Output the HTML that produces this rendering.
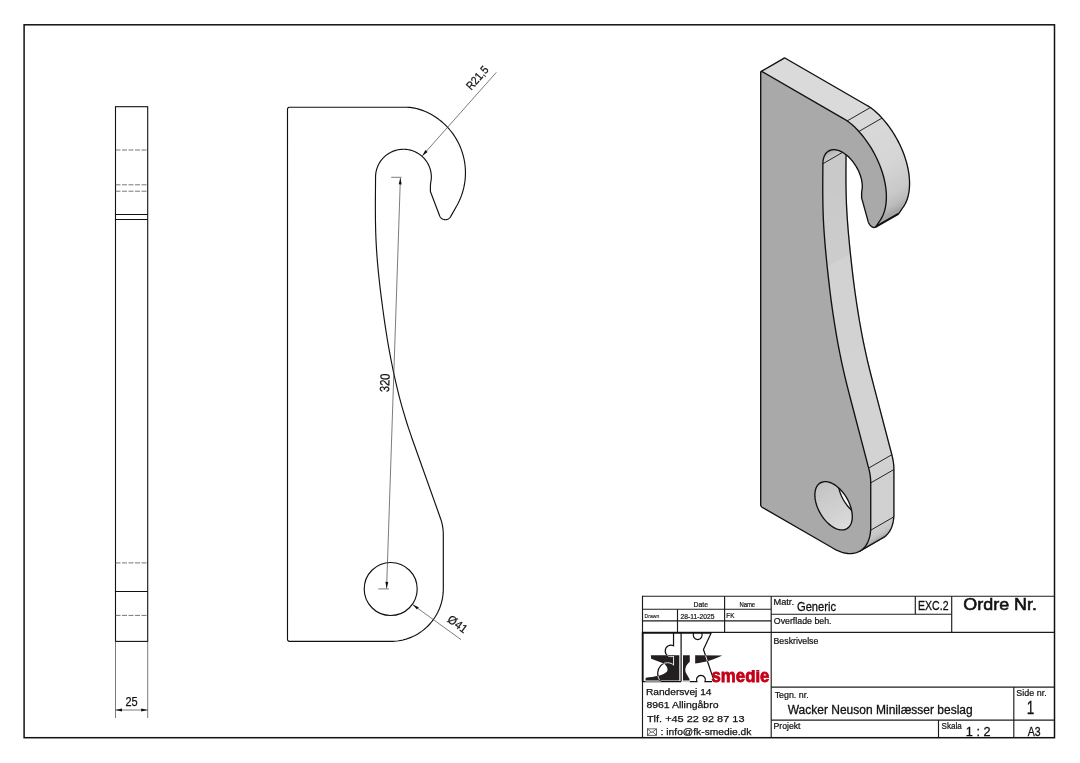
<!DOCTYPE html>
<html lang="da"><head><meta charset="utf-8"><title>Wacker Neuson Minilæsser beslag</title>
<style>html,body{margin:0;padding:0;background:#fff;}svg{display:block;will-change:transform;}</style></head>
<body>
<svg width="1080" height="763" viewBox="0 0 1080 763" font-family="'Liberation Sans', sans-serif">
<rect width="1080" height="763" fill="#fff"/>
<rect x="24.1" y="24.8" width="1030.4" height="712.9" fill="none" stroke="#111" stroke-width="1.5"/>
<rect x="115.5" y="106.7" width="32.2" height="534.7" fill="none" stroke="#111" stroke-width="1.1"/>
<line x1="115.50" y1="150.00" x2="147.70" y2="150.00" stroke="#555" stroke-width="0.8" stroke-dasharray="5 1.5"/>
<line x1="115.50" y1="184.80" x2="147.70" y2="184.80" stroke="#555" stroke-width="0.8" stroke-dasharray="5 1.5"/>
<line x1="115.50" y1="191.20" x2="147.70" y2="191.20" stroke="#555" stroke-width="0.8" stroke-dasharray="5 1.5"/>
<line x1="115.50" y1="562.90" x2="147.70" y2="562.90" stroke="#555" stroke-width="0.8" stroke-dasharray="5 1.5"/>
<line x1="115.50" y1="615.40" x2="147.70" y2="615.40" stroke="#555" stroke-width="0.8" stroke-dasharray="5 1.5"/>
<line x1="115.50" y1="214.50" x2="147.70" y2="214.50" stroke="#111" stroke-width="1.0" />
<line x1="115.50" y1="219.50" x2="147.70" y2="219.50" stroke="#111" stroke-width="1.0" />
<line x1="115.50" y1="591.50" x2="147.70" y2="591.50" stroke="#111" stroke-width="1.0" />
<line x1="115.50" y1="641.40" x2="115.50" y2="718.00" stroke="#444" stroke-width="0.7" />
<line x1="147.70" y1="641.40" x2="147.70" y2="718.00" stroke="#444" stroke-width="0.7" />
<line x1="115.50" y1="710.00" x2="147.70" y2="710.00" stroke="#444" stroke-width="0.7" />
<polygon points="115.50,710.00 122.00,708.50 122.00,711.50" fill="#111"/>
<polygon points="147.70,710.00 141.20,711.50 141.20,708.50" fill="#111"/>
<text x="125.41" y="706.10" font-size="13.3" fill="#111" stroke="#111" stroke-width="0.25" textLength="12.21" lengthAdjust="spacingAndGlyphs">25</text>
<path d="M287.50,109.20 L287.57,108.68 L287.77,108.20 L288.09,107.79 L288.50,107.47 L288.98,107.27 L289.50,107.20 L405.26,107.20 L406.83,107.23 L408.41,107.31 L409.98,107.44 L411.55,107.62 L413.11,107.86 L414.68,108.15 L416.24,108.49 L417.79,108.89 L419.35,109.34 L420.90,109.84 L422.45,110.39 L424.00,111.00 L425.26,111.53 L426.50,112.08 L428.99,113.29 L431.43,114.59 L433.81,116.00 L436.13,117.50 L438.38,119.09 L440.57,120.78 L442.69,122.56 L444.73,124.42 L446.69,126.37 L448.57,128.40 L450.36,130.50 L452.07,132.67 L453.69,134.92 L455.21,137.23 L456.63,139.60 L457.95,142.02 L459.17,144.50 L460.29,147.03 L461.31,149.60 L462.21,152.21 L463.01,154.86 L463.70,157.54 L464.27,160.24 L464.73,162.96 L465.08,165.71 L465.32,168.46 L465.44,171.22 L465.45,173.99 L465.34,176.75 L465.12,179.50 L464.79,182.25 L464.34,184.97 L463.78,187.68 L463.10,190.36 L462.32,193.01 L461.43,195.63 L460.43,198.21 L459.32,200.74 L458.11,203.22 L456.80,205.66 L450.61,216.60 L450.30,217.09 L449.95,217.54 L449.56,217.96 L449.13,218.34 L448.67,218.68 L448.18,218.98 L447.66,219.22 L447.12,219.42 L446.57,219.57 L446.00,219.66 L445.43,219.70 L444.86,219.68 L444.29,219.62 L443.73,219.49 L443.18,219.32 L442.65,219.10 L442.15,218.82 L441.67,218.51 L441.23,218.14 L440.82,217.74 L440.45,217.30 L440.13,216.83 L439.85,216.33 L439.61,215.81 L430.40,191.50 L430.40,186.00 L430.59,183.70 L430.88,181.42 L431.29,179.09 L431.36,177.59 L431.34,176.10 L431.25,174.61 L431.07,173.13 L430.82,171.66 L430.48,170.20 L430.07,168.77 L429.59,167.35 L429.03,165.97 L428.39,164.62 L427.69,163.30 L426.91,162.03 L426.07,160.79 L425.16,159.61 L424.19,158.47 L423.17,157.39 L422.08,156.36 L420.94,155.40 L419.75,154.49 L418.52,153.65 L417.24,152.88 L415.92,152.18 L414.57,151.55 L413.19,150.99 L411.77,150.51 L410.34,150.10 L408.88,149.77 L407.41,149.52 L405.92,149.35 L404.43,149.26 L402.94,149.24 L401.45,149.31 L399.96,149.46 L398.49,149.69 L397.03,149.99 L395.58,150.38 L394.16,150.83 L392.77,151.37 L391.40,151.98 L390.08,152.66 L388.79,153.41 L387.54,154.23 L386.33,155.11 L385.18,156.06 L384.08,157.07 L383.03,158.14 L382.05,159.26 L381.12,160.43 L380.26,161.65 L379.46,162.91 L378.73,164.21 L378.08,165.56 L377.50,166.93 L376.99,168.33 L376.55,169.76 L376.20,171.21 L375.92,172.68 L375.72,174.16 L375.60,175.65 L375.56,177.14 L375.39,200.00 L375.37,206.31 L375.39,212.62 L375.44,218.92 L375.54,225.23 L375.69,231.54 L375.91,237.85 L376.21,244.15 L376.58,250.46 L377.02,256.77 L377.54,263.08 L378.12,269.38 L378.75,275.69 L379.44,282.00 L380.17,288.31 L380.94,294.62 L381.74,300.92 L382.58,307.23 L383.43,313.54 L384.32,319.85 L385.24,326.15 L386.21,332.46 L387.22,338.77 L388.29,345.08 L389.42,351.38 L390.61,357.69 L391.86,364.00 L393.15,370.31 L394.49,376.62 L395.91,382.92 L397.40,389.23 L398.98,395.54 L400.64,401.85 L402.39,408.15 L404.24,414.46 L406.17,420.77 L408.19,427.08 L410.30,433.38 L412.48,439.69 L414.71,446.00 L440.36,517.95 L441.25,520.65 L441.99,523.39 L442.56,526.18 L442.97,528.99 L443.22,531.82 L443.30,534.66 L443.30,588.80 L443.26,590.87 L443.14,592.93 L442.94,594.98 L442.65,597.03 L442.29,599.06 L441.85,601.08 L441.33,603.08 L440.73,605.05 L440.05,607.01 L439.30,608.93 L438.47,610.82 L437.57,612.68 L436.59,614.50 L435.55,616.28 L434.44,618.02 L433.25,619.72 L432.01,621.36 L430.70,622.96 L429.33,624.50 L427.89,625.99 L426.40,627.43 L424.86,628.80 L423.26,630.11 L421.62,631.35 L419.92,632.54 L418.18,633.65 L416.40,634.69 L414.58,635.67 L412.72,636.57 L410.83,637.40 L408.91,638.15 L406.95,638.83 L404.98,639.43 L402.98,639.95 L400.96,640.39 L398.93,640.75 L396.88,641.04 L394.83,641.24 L392.77,641.36 L390.70,641.40 L289.50,641.40 L288.98,641.33 L288.50,641.13 L288.09,640.81 L287.77,640.40 L287.57,639.92 L287.50,639.40 Z" fill="none" stroke="#111" stroke-width="1.15" stroke-linejoin="round"/>
<circle cx="390.7" cy="589.0" r="26.5" fill="none" stroke="#111" stroke-width="1.15"/>
<line x1="400.40" y1="177.90" x2="386.60" y2="588.40" stroke="#444" stroke-width="0.7" />
<polygon points="400.40,177.90 401.68,184.45 398.68,184.35" fill="#111"/>
<polygon points="386.60,588.40 385.32,581.85 388.32,581.95" fill="#111"/>
<line x1="391.20" y1="177.30" x2="401.50" y2="177.30" stroke="#444" stroke-width="0.7" />
<line x1="378.30" y1="588.90" x2="389.00" y2="588.90" stroke="#444" stroke-width="0.7" />
<text x="388.80" y="392.00" font-size="13.3" fill="#111" stroke="#111" stroke-width="0.25" textLength="18.64" lengthAdjust="spacingAndGlyphs" transform="rotate(-88.07 389.10 392.00)">320</text>
<line x1="422.20" y1="155.90" x2="496.30" y2="72.40" stroke="#444" stroke-width="0.7" />
<polygon points="422.20,155.90 425.39,150.04 427.64,152.03" fill="#111"/>
<text x="470.95" y="90.10" font-size="11.6" fill="#111" stroke="#111" stroke-width="0.25" textLength="27.23" lengthAdjust="spacingAndGlyphs" transform="rotate(-48.41 471.70 90.10)">R21,5</text>
<line x1="412.60" y1="604.60" x2="461.00" y2="639.60" stroke="#444" stroke-width="0.7" />
<polygon points="412.60,604.60 418.75,607.19 416.99,609.62" fill="#111"/>
<text x="446.45" y="621.30" font-size="11.8" fill="#111" stroke="#111" stroke-width="0.25" textLength="21.36" lengthAdjust="spacingAndGlyphs" transform="rotate(35.87 446.80 621.30)">Ø41</text>
<g id="iso">
<polygon points="761.11,71.52 761.41,71.43 784.57,58.05 784.28,58.14" fill="#cfcfcf" stroke="#cfcfcf" stroke-width="1.2"/>
<polygon points="761.41,71.43 761.75,71.46 784.91,58.09 784.57,58.05" fill="#cfcfcf" stroke="#cfcfcf" stroke-width="1.2"/>
<polygon points="761.75,71.46 762.11,71.62 785.28,58.24 784.91,58.09" fill="#cfcfcf" stroke="#cfcfcf" stroke-width="1.2"/>
<polygon points="762.11,71.62 843.87,118.82 867.03,105.44 785.28,58.24" fill="#cfcfcf" stroke="#cfcfcf" stroke-width="1.2"/>
<polygon points="843.87,118.82 844.98,119.48 868.14,106.11 867.03,105.44" fill="#cfcfcf" stroke="#cfcfcf" stroke-width="1.2"/>
<polygon points="844.98,119.48 846.09,120.19 869.25,106.81 868.14,106.11" fill="#cfcfcf" stroke="#cfcfcf" stroke-width="1.2"/>
<polygon points="846.09,120.19 847.20,120.93 870.36,107.56 869.25,106.81" fill="#cfcfcf" stroke="#cfcfcf" stroke-width="1.2"/>
<polygon points="847.20,120.93 848.31,121.72 871.47,108.35 870.36,107.56" fill="#cfcfcf" stroke="#cfcfcf" stroke-width="1.2"/>
<polygon points="848.31,121.72 849.41,122.56 872.58,109.18 871.47,108.35" fill="#cfcfcf" stroke="#cfcfcf" stroke-width="1.2"/>
<polygon points="849.41,122.56 850.52,123.43 873.68,110.06 872.58,109.18" fill="#cfcfcf" stroke="#cfcfcf" stroke-width="1.2"/>
<polygon points="850.52,123.43 851.62,124.35 874.78,110.97 873.68,110.06" fill="#cfcfcf" stroke="#cfcfcf" stroke-width="1.2"/>
<polygon points="851.62,124.35 852.72,125.30 875.88,111.93 874.78,110.97" fill="#cfcfcf" stroke="#cfcfcf" stroke-width="1.2"/>
<polygon points="852.72,125.30 853.82,126.30 876.98,112.93 875.88,111.93" fill="#cfcfcf" stroke="#cfcfcf" stroke-width="1.2"/>
<polygon points="853.82,126.30 854.91,127.35 878.08,113.97 876.98,112.93" fill="#cfcfcf" stroke="#cfcfcf" stroke-width="1.2"/>
<polygon points="854.91,127.35 856.01,128.43 879.17,115.06 878.08,113.97" fill="#cfcfcf" stroke="#cfcfcf" stroke-width="1.2"/>
<polygon points="856.01,128.43 857.10,129.56 880.27,116.18 879.17,115.06" fill="#cfcfcf" stroke="#cfcfcf" stroke-width="1.2"/>
<polygon points="857.10,129.56 857.99,130.50 881.15,117.13 880.27,116.18" fill="#cfcfcf" stroke="#cfcfcf" stroke-width="1.2"/>
<polygon points="857.99,130.50 858.87,131.46 882.03,118.09 881.15,117.13" fill="#cfcfcf" stroke="#cfcfcf" stroke-width="1.2"/>
<polygon points="858.87,131.46 860.63,133.46 883.79,120.08 882.03,118.09" fill="#cfcfcf" stroke="#cfcfcf" stroke-width="1.2"/>
<polygon points="860.63,133.46 862.35,135.51 885.51,122.14 883.79,120.08" fill="#cfcfcf" stroke="#cfcfcf" stroke-width="1.2"/>
<polygon points="862.35,135.51 864.03,137.63 887.19,124.25 885.51,122.14" fill="#cfcfcf" stroke="#cfcfcf" stroke-width="1.2"/>
<polygon points="864.03,137.63 865.67,139.80 888.83,126.43 887.19,124.25" fill="#cfcfcf" stroke="#cfcfcf" stroke-width="1.2"/>
<polygon points="865.67,139.80 867.26,142.02 890.42,128.65 888.83,126.43" fill="#cfcfcf" stroke="#cfcfcf" stroke-width="1.2"/>
<polygon points="867.26,142.02 868.81,144.29 891.97,130.92 890.42,128.65" fill="#cfcfcf" stroke="#cfcfcf" stroke-width="1.2"/>
<polygon points="868.81,144.29 870.30,146.60 893.46,133.23 891.97,130.92" fill="#cfcfcf" stroke="#cfcfcf" stroke-width="1.2"/>
<polygon points="870.30,146.60 871.74,148.96 894.91,135.58 893.46,133.23" fill="#cfcfcf" stroke="#cfcfcf" stroke-width="1.2"/>
<polygon points="871.74,148.96 873.13,151.34 896.29,137.97 894.91,135.58" fill="#cfcfcf" stroke="#cfcfcf" stroke-width="1.2"/>
<polygon points="873.13,151.34 874.46,153.76 897.62,140.39 896.29,137.97" fill="#cfcfcf" stroke="#cfcfcf" stroke-width="1.2"/>
<polygon points="874.46,153.76 875.72,156.21 898.89,142.83 897.62,140.39" fill="#cfcfcf" stroke="#cfcfcf" stroke-width="1.2"/>
<polygon points="875.72,156.21 876.93,158.68 900.09,145.30 898.89,142.83" fill="#cfcfcf" stroke="#cfcfcf" stroke-width="1.2"/>
<polygon points="876.93,158.68 878.07,161.17 901.23,147.79 900.09,145.30" fill="#cfcfcf" stroke="#cfcfcf" stroke-width="1.2"/>
<polygon points="878.07,161.17 879.14,163.67 902.31,150.29 901.23,147.79" fill="#cfcfcf" stroke="#cfcfcf" stroke-width="1.2"/>
<polygon points="879.14,163.67 880.15,166.18 903.31,152.81 902.31,150.29" fill="#cfcfcf" stroke="#cfcfcf" stroke-width="1.2"/>
<polygon points="880.15,166.18 881.08,168.70 904.25,155.33 903.31,152.81" fill="#cfcfcf" stroke="#cfcfcf" stroke-width="1.2"/>
<polygon points="881.08,168.70 881.94,171.22 905.11,157.85 904.25,155.33" fill="#cfcfcf" stroke="#cfcfcf" stroke-width="1.2"/>
<polygon points="881.94,171.22 882.73,173.74 905.90,160.36 905.11,157.85" fill="#cfcfcf" stroke="#cfcfcf" stroke-width="1.2"/>
<polygon points="882.73,173.74 883.45,176.25 906.61,162.87 905.90,160.36" fill="#cfcfcf" stroke="#cfcfcf" stroke-width="1.2"/>
<polygon points="883.45,176.25 884.09,178.75 907.25,165.37 906.61,162.87" fill="#cfcfcf" stroke="#cfcfcf" stroke-width="1.2"/>
<polygon points="884.09,178.75 884.65,181.23 907.82,167.86 907.25,165.37" fill="#cfcfcf" stroke="#cfcfcf" stroke-width="1.2"/>
<polygon points="884.65,181.23 885.14,183.69 908.30,170.32 907.82,167.86" fill="#cfcfcf" stroke="#cfcfcf" stroke-width="1.2"/>
<polygon points="885.14,183.69 885.54,186.13 908.71,172.76 908.30,170.32" fill="#cfcfcf" stroke="#cfcfcf" stroke-width="1.2"/>
<polygon points="885.54,186.13 885.87,188.54 909.04,175.17 908.71,172.76" fill="#cfcfcf" stroke="#cfcfcf" stroke-width="1.2"/>
<polygon points="885.87,188.54 886.12,190.92 909.28,177.55 909.04,175.17" fill="#cfcfcf" stroke="#cfcfcf" stroke-width="1.2"/>
<polygon points="886.12,190.92 886.28,193.26 909.45,179.89 909.28,177.55" fill="#cfcfcf" stroke="#cfcfcf" stroke-width="1.2"/>
<polygon points="886.28,193.26 886.37,195.57 909.54,182.19 909.45,179.89" fill="#cfcfcf" stroke="#cfcfcf" stroke-width="1.2"/>
<polygon points="886.37,195.57 886.38,197.82 909.54,184.45 909.54,182.19" fill="#cfcfcf" stroke="#cfcfcf" stroke-width="1.2"/>
<polygon points="886.38,197.82 886.30,200.03 909.46,186.66 909.54,184.45" fill="#cfcfcf" stroke="#cfcfcf" stroke-width="1.2"/>
<polygon points="886.30,200.03 886.14,202.19 909.31,188.81 909.46,186.66" fill="#cfcfcf" stroke="#cfcfcf" stroke-width="1.2"/>
<polygon points="886.14,202.19 885.91,204.29 909.07,190.91 909.31,188.81" fill="#cfcfcf" stroke="#cfcfcf" stroke-width="1.2"/>
<polygon points="885.91,204.29 885.59,206.33 908.75,192.96 909.07,190.91" fill="#cfcfcf" stroke="#cfcfcf" stroke-width="1.2"/>
<polygon points="885.59,206.33 885.19,208.31 908.36,194.93 908.75,192.96" fill="#cfcfcf" stroke="#cfcfcf" stroke-width="1.2"/>
<polygon points="885.19,208.31 884.72,210.22 907.88,196.85 908.36,194.93" fill="#cfcfcf" stroke="#cfcfcf" stroke-width="1.2"/>
<polygon points="884.72,210.22 884.17,212.06 907.33,198.69 907.88,196.85" fill="#cfcfcf" stroke="#cfcfcf" stroke-width="1.2"/>
<polygon points="884.17,212.06 883.54,213.83 906.70,200.46 907.33,198.69" fill="#cfcfcf" stroke="#cfcfcf" stroke-width="1.2"/>
<polygon points="883.54,213.83 882.83,215.53 905.99,202.15 906.70,200.46" fill="#cfcfcf" stroke="#cfcfcf" stroke-width="1.2"/>
<polygon points="882.83,215.53 882.05,217.14 905.21,203.77 905.99,202.15" fill="#cfcfcf" stroke="#cfcfcf" stroke-width="1.2"/>
<polygon points="882.05,217.14 881.20,218.68 904.36,205.30 905.21,203.77" fill="#cfcfcf" stroke="#cfcfcf" stroke-width="1.2"/>
<polygon points="881.20,218.68 880.27,220.13 903.43,206.75 904.36,205.30" fill="#cfcfcf" stroke="#cfcfcf" stroke-width="1.2"/>
<polygon points="880.27,220.13 875.89,226.53 899.06,213.15 903.43,206.75" fill="#cfcfcf" stroke="#cfcfcf" stroke-width="1.2"/>
<polygon points="875.89,226.53 875.68,226.80 898.84,213.42 899.06,213.15" fill="#cfcfcf" stroke="#cfcfcf" stroke-width="1.2"/>
<polygon points="875.68,226.80 875.43,227.03 898.60,213.65 898.84,213.42" fill="#cfcfcf" stroke="#cfcfcf" stroke-width="1.2"/>
<polygon points="875.43,227.03 875.16,227.21 898.32,213.83 898.60,213.65" fill="#cfcfcf" stroke="#cfcfcf" stroke-width="1.2"/>
<polygon points="828.91,150.85 828.17,151.29 851.33,137.92 852.07,137.48" fill="#cfcfcf" stroke="#cfcfcf" stroke-width="1.2"/>
<polygon points="828.17,151.29 827.47,151.80 850.64,138.43 851.33,137.92" fill="#cfcfcf" stroke="#cfcfcf" stroke-width="1.2"/>
<polygon points="827.47,151.80 826.82,152.38 849.98,139.01 850.64,138.43" fill="#cfcfcf" stroke="#cfcfcf" stroke-width="1.2"/>
<polygon points="826.82,152.38 826.21,153.02 849.37,139.65 849.98,139.01" fill="#cfcfcf" stroke="#cfcfcf" stroke-width="1.2"/>
<polygon points="826.21,153.02 825.65,153.73 848.81,140.35 849.37,139.65" fill="#cfcfcf" stroke="#cfcfcf" stroke-width="1.2"/>
<polygon points="825.65,153.73 825.13,154.50 848.30,141.12 848.81,140.35" fill="#cfcfcf" stroke="#cfcfcf" stroke-width="1.2"/>
<polygon points="825.13,154.50 824.67,155.32 847.84,141.95 848.30,141.12" fill="#cfcfcf" stroke="#cfcfcf" stroke-width="1.2"/>
<polygon points="824.67,155.32 824.26,156.21 847.42,142.83 847.84,141.95" fill="#cfcfcf" stroke="#cfcfcf" stroke-width="1.2"/>
<polygon points="824.26,156.21 823.90,157.14 847.06,143.77 847.42,142.83" fill="#cfcfcf" stroke="#cfcfcf" stroke-width="1.2"/>
<polygon points="823.90,157.14 823.59,158.13 846.76,144.76 847.06,143.77" fill="#cfcfcf" stroke="#cfcfcf" stroke-width="1.2"/>
<polygon points="823.59,158.13 823.34,159.17 846.51,145.79 846.76,144.76" fill="#cfcfcf" stroke="#cfcfcf" stroke-width="1.2"/>
<polygon points="823.34,159.17 823.15,160.25 846.31,146.88 846.51,145.79" fill="#cfcfcf" stroke="#cfcfcf" stroke-width="1.2"/>
<polygon points="823.15,160.25 823.00,161.38 846.17,148.00 846.31,146.88" fill="#cfcfcf" stroke="#cfcfcf" stroke-width="1.2"/>
<polygon points="823.00,161.38 822.92,162.54 846.08,149.17 846.17,148.00" fill="#cfcfcf" stroke="#cfcfcf" stroke-width="1.2"/>
<polygon points="822.92,162.54 822.89,163.74 846.06,150.37 846.08,149.17" fill="#cfcfcf" stroke="#cfcfcf" stroke-width="1.2"/>
<polygon points="822.89,163.74 822.77,182.32 845.94,168.94 846.06,150.37" fill="#cfcfcf" stroke="#cfcfcf" stroke-width="1.2"/>
<polygon points="822.77,182.32 822.76,187.45 845.92,174.08 845.94,168.94" fill="#cfcfcf" stroke="#cfcfcf" stroke-width="1.2"/>
<polygon points="822.76,187.45 822.77,192.60 845.93,179.23 845.92,174.08" fill="#cfcfcf" stroke="#cfcfcf" stroke-width="1.2"/>
<polygon points="822.77,192.60 822.81,197.77 845.97,184.39 845.93,179.23" fill="#cfcfcf" stroke="#cfcfcf" stroke-width="1.2"/>
<polygon points="822.81,197.77 822.88,202.95 846.04,189.58 845.97,184.39" fill="#cfcfcf" stroke="#cfcfcf" stroke-width="1.2"/>
<polygon points="822.88,202.95 822.99,208.16 846.15,194.78 846.04,189.58" fill="#cfcfcf" stroke="#cfcfcf" stroke-width="1.2"/>
<polygon points="822.99,208.16 823.14,213.39 846.31,200.02 846.15,194.78" fill="#cfcfcf" stroke="#cfcfcf" stroke-width="1.2"/>
<polygon points="823.14,213.39 823.35,218.66 846.51,205.28 846.31,200.02" fill="#cfcfcf" stroke="#cfcfcf" stroke-width="1.2"/>
<polygon points="823.35,218.66 823.61,223.95 846.78,210.58 846.51,205.28" fill="#cfcfcf" stroke="#cfcfcf" stroke-width="1.2"/>
<polygon points="823.61,223.95 823.93,229.28 847.09,215.90 846.78,210.58" fill="#cfcfcf" stroke="#cfcfcf" stroke-width="1.2"/>
<polygon points="823.93,229.28 824.29,234.63 847.45,221.26 847.09,215.90" fill="#cfcfcf" stroke="#cfcfcf" stroke-width="1.2"/>
<polygon points="824.29,234.63 824.70,240.01 847.86,226.64 847.45,221.26" fill="#cfcfcf" stroke="#cfcfcf" stroke-width="1.2"/>
<polygon points="824.70,240.01 825.14,245.41 848.31,232.04 847.86,226.64" fill="#cfcfcf" stroke="#cfcfcf" stroke-width="1.2"/>
<polygon points="825.14,245.41 825.63,250.84 848.79,237.46 848.31,232.04" fill="#cfcfcf" stroke="#cfcfcf" stroke-width="1.2"/>
<polygon points="825.63,250.84 826.15,256.28 849.31,242.90 848.79,237.46" fill="#cfcfcf" stroke="#cfcfcf" stroke-width="1.2"/>
<polygon points="826.15,256.28 826.69,261.74 849.85,248.36 849.31,242.90" fill="#cfcfcf" stroke="#cfcfcf" stroke-width="1.2"/>
<polygon points="826.69,261.74 827.26,267.21 850.42,253.83 849.85,248.36" fill="#cfcfcf" stroke="#cfcfcf" stroke-width="1.2"/>
<polygon points="827.26,267.21 827.85,272.69 851.01,259.32 850.42,253.83" fill="#cfcfcf" stroke="#cfcfcf" stroke-width="1.2"/>
<polygon points="827.85,272.69 828.45,278.19 851.62,264.81 851.01,259.32" fill="#cfcfcf" stroke="#cfcfcf" stroke-width="1.2"/>
<polygon points="828.45,278.19 829.08,283.69 852.24,270.32 851.62,264.81" fill="#cfcfcf" stroke="#cfcfcf" stroke-width="1.2"/>
<polygon points="829.08,283.69 829.73,289.21 852.90,275.84 852.24,270.32" fill="#cfcfcf" stroke="#cfcfcf" stroke-width="1.2"/>
<polygon points="829.73,289.21 830.41,294.75 853.58,281.38 852.90,275.84" fill="#cfcfcf" stroke="#cfcfcf" stroke-width="1.2"/>
<polygon points="830.41,294.75 831.13,300.31 854.29,286.93 853.58,281.38" fill="#cfcfcf" stroke="#cfcfcf" stroke-width="1.2"/>
<polygon points="831.13,300.31 831.88,305.89 855.05,292.51 854.29,286.93" fill="#cfcfcf" stroke="#cfcfcf" stroke-width="1.2"/>
<polygon points="831.88,305.89 832.68,311.49 855.85,298.12 855.05,292.51" fill="#cfcfcf" stroke="#cfcfcf" stroke-width="1.2"/>
<polygon points="832.68,311.49 833.52,317.12 856.69,303.75 855.85,298.12" fill="#cfcfcf" stroke="#cfcfcf" stroke-width="1.2"/>
<polygon points="833.52,317.12 834.40,322.77 857.57,309.40 856.69,303.75" fill="#cfcfcf" stroke="#cfcfcf" stroke-width="1.2"/>
<polygon points="834.40,322.77 835.32,328.44 858.48,315.07 857.57,309.40" fill="#cfcfcf" stroke="#cfcfcf" stroke-width="1.2"/>
<polygon points="835.32,328.44 836.26,334.14 859.43,320.76 858.48,315.07" fill="#cfcfcf" stroke="#cfcfcf" stroke-width="1.2"/>
<polygon points="836.26,334.14 837.26,339.86 860.43,326.48 859.43,320.76" fill="#cfcfcf" stroke="#cfcfcf" stroke-width="1.2"/>
<polygon points="837.26,339.86 838.32,345.61 861.48,332.24 860.43,326.48" fill="#cfcfcf" stroke="#cfcfcf" stroke-width="1.2"/>
<polygon points="838.32,345.61 839.43,351.40 862.60,338.02 861.48,332.24" fill="#cfcfcf" stroke="#cfcfcf" stroke-width="1.2"/>
<polygon points="839.43,351.40 840.61,357.22 863.77,343.84 862.60,338.02" fill="#cfcfcf" stroke="#cfcfcf" stroke-width="1.2"/>
<polygon points="840.61,357.22 841.84,363.08 865.01,349.70 863.77,343.84" fill="#cfcfcf" stroke="#cfcfcf" stroke-width="1.2"/>
<polygon points="841.84,363.08 843.14,368.97 866.31,355.60 865.01,349.70" fill="#cfcfcf" stroke="#cfcfcf" stroke-width="1.2"/>
<polygon points="843.14,368.97 844.51,374.90 867.67,361.53 866.31,355.60" fill="#cfcfcf" stroke="#cfcfcf" stroke-width="1.2"/>
<polygon points="844.51,374.90 845.94,380.87 869.10,367.50 867.67,361.53" fill="#cfcfcf" stroke="#cfcfcf" stroke-width="1.2"/>
<polygon points="845.94,380.87 847.43,386.88 870.59,373.50 869.10,367.50" fill="#cfcfcf" stroke="#cfcfcf" stroke-width="1.2"/>
<polygon points="847.43,386.88 848.96,392.91 872.13,379.53 870.59,373.50" fill="#cfcfcf" stroke="#cfcfcf" stroke-width="1.2"/>
<polygon points="848.96,392.91 850.54,398.96 873.71,385.59 872.13,379.53" fill="#cfcfcf" stroke="#cfcfcf" stroke-width="1.2"/>
<polygon points="850.54,398.96 868.66,468.10 891.82,454.72 873.71,385.59" fill="#cfcfcf" stroke="#cfcfcf" stroke-width="1.2"/>
<polygon points="868.66,468.10 869.29,470.66 892.45,457.29 891.82,454.72" fill="#cfcfcf" stroke="#cfcfcf" stroke-width="1.2"/>
<polygon points="869.29,470.66 869.81,473.20 892.97,459.82 892.45,457.29" fill="#cfcfcf" stroke="#cfcfcf" stroke-width="1.2"/>
<polygon points="869.81,473.20 870.21,475.70 893.38,462.33 892.97,459.82" fill="#cfcfcf" stroke="#cfcfcf" stroke-width="1.2"/>
<polygon points="870.21,475.70 870.50,478.16 893.67,464.79 893.38,462.33" fill="#cfcfcf" stroke="#cfcfcf" stroke-width="1.2"/>
<polygon points="870.50,478.16 870.67,480.57 893.84,467.20 893.67,464.79" fill="#cfcfcf" stroke="#cfcfcf" stroke-width="1.2"/>
<polygon points="870.67,480.57 870.73,482.92 893.90,469.55 893.84,467.20" fill="#cfcfcf" stroke="#cfcfcf" stroke-width="1.2"/>
<polygon points="870.73,482.92 870.73,527.07 893.90,513.70 893.90,469.55" fill="#cfcfcf" stroke="#cfcfcf" stroke-width="1.2"/>
<polygon points="870.73,527.07 870.70,528.74 893.87,515.37 893.90,513.70" fill="#cfcfcf" stroke="#cfcfcf" stroke-width="1.2"/>
<polygon points="870.70,528.74 870.62,530.37 893.78,517.00 893.87,515.37" fill="#cfcfcf" stroke="#cfcfcf" stroke-width="1.2"/>
<polygon points="870.62,530.37 870.48,531.97 893.64,518.59 893.78,517.00" fill="#cfcfcf" stroke="#cfcfcf" stroke-width="1.2"/>
<polygon points="870.48,531.97 870.28,533.52 893.44,520.14 893.64,518.59" fill="#cfcfcf" stroke="#cfcfcf" stroke-width="1.2"/>
<polygon points="870.28,533.52 870.02,535.03 893.18,521.65 893.44,520.14" fill="#cfcfcf" stroke="#cfcfcf" stroke-width="1.2"/>
<polygon points="870.02,535.03 869.71,536.49 892.87,523.12 893.18,521.65" fill="#cfcfcf" stroke="#cfcfcf" stroke-width="1.2"/>
<polygon points="869.71,536.49 869.34,537.91 892.50,524.54 892.87,523.12" fill="#cfcfcf" stroke="#cfcfcf" stroke-width="1.2"/>
<polygon points="869.34,537.91 868.91,539.28 892.08,525.90 892.50,524.54" fill="#cfcfcf" stroke="#cfcfcf" stroke-width="1.2"/>
<polygon points="868.91,539.28 868.44,540.59 891.60,527.22 892.08,525.90" fill="#cfcfcf" stroke="#cfcfcf" stroke-width="1.2"/>
<polygon points="868.44,540.59 867.91,541.85 891.07,528.48 891.60,527.22" fill="#cfcfcf" stroke="#cfcfcf" stroke-width="1.2"/>
<polygon points="867.91,541.85 867.32,543.06 890.49,529.69 891.07,528.48" fill="#cfcfcf" stroke="#cfcfcf" stroke-width="1.2"/>
<polygon points="867.32,543.06 866.68,544.21 889.85,530.83 890.49,529.69" fill="#cfcfcf" stroke="#cfcfcf" stroke-width="1.2"/>
<polygon points="866.68,544.21 866.00,545.30 889.16,531.92 889.85,530.83" fill="#cfcfcf" stroke="#cfcfcf" stroke-width="1.2"/>
<polygon points="866.00,545.30 865.26,546.32 888.42,532.95 889.16,531.92" fill="#cfcfcf" stroke="#cfcfcf" stroke-width="1.2"/>
<polygon points="865.26,546.32 864.47,547.29 887.64,533.91 888.42,532.95" fill="#cfcfcf" stroke="#cfcfcf" stroke-width="1.2"/>
<polygon points="864.47,547.29 863.64,548.19 886.80,534.82 887.64,533.91" fill="#cfcfcf" stroke="#cfcfcf" stroke-width="1.2"/>
<polygon points="863.64,548.19 862.76,549.02 885.92,535.65 886.80,534.82" fill="#cfcfcf" stroke="#cfcfcf" stroke-width="1.2"/>
<polygon points="862.76,549.02 861.83,549.79 885.00,536.42 885.92,535.65" fill="#cfcfcf" stroke="#cfcfcf" stroke-width="1.2"/>
<polygon points="861.83,549.79 860.86,550.49 884.03,537.12 885.00,536.42" fill="#cfcfcf" stroke="#cfcfcf" stroke-width="1.2"/>
<polygon points="860.86,550.49 859.85,551.12 883.02,537.75 884.03,537.12" fill="#cfcfcf" stroke="#cfcfcf" stroke-width="1.2"/>
<polygon points="761.11,71.52 761.41,71.43 784.57,58.05 784.28,58.14" fill="#dadada" stroke="#dadada" stroke-width="0.8"/>
<polygon points="761.41,71.43 761.75,71.46 784.91,58.09 784.57,58.05" fill="#dadada" stroke="#dadada" stroke-width="0.8"/>
<polygon points="761.75,71.46 762.11,71.62 785.28,58.24 784.91,58.09" fill="#dadada" stroke="#dadada" stroke-width="0.8"/>
<polygon points="762.11,71.62 843.87,118.82 867.03,105.44 785.28,58.24" fill="#dadada" stroke="#dadada" stroke-width="0.8"/>
<polygon points="843.87,118.82 844.98,119.48 868.14,106.11 867.03,105.44" fill="#dadada" stroke="#dadada" stroke-width="0.8"/>
<polygon points="844.98,119.48 846.09,120.19 869.25,106.81 868.14,106.11" fill="#dadada" stroke="#dadada" stroke-width="0.8"/>
<polygon points="846.09,120.19 847.20,120.93 870.36,107.56 869.25,106.81" fill="#dadada" stroke="#dadada" stroke-width="0.8"/>
<polygon points="847.20,120.93 848.31,121.72 871.47,108.35 870.36,107.56" fill="#dadada" stroke="#dadada" stroke-width="0.8"/>
<polygon points="848.31,121.72 849.41,122.56 872.58,109.18 871.47,108.35" fill="#d9d9d9" stroke="#d9d9d9" stroke-width="0.8"/>
<polygon points="849.41,122.56 850.52,123.43 873.68,110.06 872.58,109.18" fill="#d9d9d9" stroke="#d9d9d9" stroke-width="0.8"/>
<polygon points="850.52,123.43 851.62,124.35 874.78,110.97 873.68,110.06" fill="#d9d9d9" stroke="#d9d9d9" stroke-width="0.8"/>
<polygon points="851.62,124.35 852.72,125.30 875.88,111.93 874.78,110.97" fill="#d9d9d9" stroke="#d9d9d9" stroke-width="0.8"/>
<polygon points="852.72,125.30 853.82,126.30 876.98,112.93 875.88,111.93" fill="#d9d9d9" stroke="#d9d9d9" stroke-width="0.8"/>
<polygon points="853.82,126.30 854.91,127.35 878.08,113.97 876.98,112.93" fill="#d9d9d9" stroke="#d9d9d9" stroke-width="0.8"/>
<polygon points="854.91,127.35 856.01,128.43 879.17,115.06 878.08,113.97" fill="#d9d9d9" stroke="#d9d9d9" stroke-width="0.8"/>
<polygon points="856.01,128.43 857.10,129.56 880.27,116.18 879.17,115.06" fill="#d9d9d9" stroke="#d9d9d9" stroke-width="0.8"/>
<polygon points="857.10,129.56 857.99,130.50 881.15,117.13 880.27,116.18" fill="#d8d8d8" stroke="#d8d8d8" stroke-width="0.8"/>
<polygon points="857.99,130.50 858.87,131.46 882.03,118.09 881.15,117.13" fill="#d8d8d8" stroke="#d8d8d8" stroke-width="0.8"/>
<polygon points="858.87,131.46 860.63,133.46 883.79,120.08 882.03,118.09" fill="#d8d8d8" stroke="#d8d8d8" stroke-width="0.8"/>
<polygon points="860.63,133.46 862.35,135.51 885.51,122.14 883.79,120.08" fill="#d8d8d8" stroke="#d8d8d8" stroke-width="0.8"/>
<polygon points="862.35,135.51 864.03,137.63 887.19,124.25 885.51,122.14" fill="#d8d8d8" stroke="#d8d8d8" stroke-width="0.8"/>
<polygon points="864.03,137.63 865.67,139.80 888.83,126.43 887.19,124.25" fill="#d8d8d8" stroke="#d8d8d8" stroke-width="0.8"/>
<polygon points="865.67,139.80 867.26,142.02 890.42,128.65 888.83,126.43" fill="#d8d8d8" stroke="#d8d8d8" stroke-width="0.8"/>
<polygon points="867.26,142.02 868.81,144.29 891.97,130.92 890.42,128.65" fill="#d7d7d7" stroke="#d7d7d7" stroke-width="0.8"/>
<polygon points="868.81,144.29 870.30,146.60 893.46,133.23 891.97,130.92" fill="#d7d7d7" stroke="#d7d7d7" stroke-width="0.8"/>
<polygon points="870.30,146.60 871.74,148.96 894.91,135.58 893.46,133.23" fill="#d7d7d7" stroke="#d7d7d7" stroke-width="0.8"/>
<polygon points="871.74,148.96 873.13,151.34 896.29,137.97 894.91,135.58" fill="#d7d7d7" stroke="#d7d7d7" stroke-width="0.8"/>
<polygon points="873.13,151.34 874.46,153.76 897.62,140.39 896.29,137.97" fill="#d7d7d7" stroke="#d7d7d7" stroke-width="0.8"/>
<polygon points="874.46,153.76 875.72,156.21 898.89,142.83 897.62,140.39" fill="#d7d7d7" stroke="#d7d7d7" stroke-width="0.8"/>
<polygon points="875.72,156.21 876.93,158.68 900.09,145.30 898.89,142.83" fill="#d7d7d7" stroke="#d7d7d7" stroke-width="0.8"/>
<polygon points="876.93,158.68 878.07,161.17 901.23,147.79 900.09,145.30" fill="#d6d6d6" stroke="#d6d6d6" stroke-width="0.8"/>
<polygon points="878.07,161.17 879.14,163.67 902.31,150.29 901.23,147.79" fill="#d6d6d6" stroke="#d6d6d6" stroke-width="0.8"/>
<polygon points="879.14,163.67 880.15,166.18 903.31,152.81 902.31,150.29" fill="#d6d6d6" stroke="#d6d6d6" stroke-width="0.8"/>
<polygon points="880.15,166.18 881.08,168.70 904.25,155.33 903.31,152.81" fill="#d5d5d5" stroke="#d5d5d5" stroke-width="0.8"/>
<polygon points="881.08,168.70 881.94,171.22 905.11,157.85 904.25,155.33" fill="#d4d4d4" stroke="#d4d4d4" stroke-width="0.8"/>
<polygon points="881.94,171.22 882.73,173.74 905.90,160.36 905.11,157.85" fill="#d3d3d3" stroke="#d3d3d3" stroke-width="0.8"/>
<polygon points="882.73,173.74 883.45,176.25 906.61,162.87 905.90,160.36" fill="#d2d2d2" stroke="#d2d2d2" stroke-width="0.8"/>
<polygon points="883.45,176.25 884.09,178.75 907.25,165.37 906.61,162.87" fill="#d1d1d1" stroke="#d1d1d1" stroke-width="0.8"/>
<polygon points="884.09,178.75 884.65,181.23 907.82,167.86 907.25,165.37" fill="#d0d0d0" stroke="#d0d0d0" stroke-width="0.8"/>
<polygon points="884.65,181.23 885.14,183.69 908.30,170.32 907.82,167.86" fill="#cfcfcf" stroke="#cfcfcf" stroke-width="0.8"/>
<polygon points="885.14,183.69 885.54,186.13 908.71,172.76 908.30,170.32" fill="#cecece" stroke="#cecece" stroke-width="0.8"/>
<polygon points="885.54,186.13 885.87,188.54 909.04,175.17 908.71,172.76" fill="#cdcdcd" stroke="#cdcdcd" stroke-width="0.8"/>
<polygon points="885.87,188.54 886.12,190.92 909.28,177.55 909.04,175.17" fill="#cccccc" stroke="#cccccc" stroke-width="0.8"/>
<polygon points="886.12,190.92 886.28,193.26 909.45,179.89 909.28,177.55" fill="#cbcbcb" stroke="#cbcbcb" stroke-width="0.8"/>
<polygon points="886.28,193.26 886.37,195.57 909.54,182.19 909.45,179.89" fill="#cacaca" stroke="#cacaca" stroke-width="0.8"/>
<polygon points="886.37,195.57 886.38,197.82 909.54,184.45 909.54,182.19" fill="#c9c9c9" stroke="#c9c9c9" stroke-width="0.8"/>
<polygon points="886.38,197.82 886.30,200.03 909.46,186.66 909.54,184.45" fill="#c7c7c7" stroke="#c7c7c7" stroke-width="0.8"/>
<polygon points="886.30,200.03 886.14,202.19 909.31,188.81 909.46,186.66" fill="#c5c5c5" stroke="#c5c5c5" stroke-width="0.8"/>
<polygon points="886.14,202.19 885.91,204.29 909.07,190.91 909.31,188.81" fill="#c2c2c2" stroke="#c2c2c2" stroke-width="0.8"/>
<polygon points="885.91,204.29 885.59,206.33 908.75,192.96 909.07,190.91" fill="#c0c0c0" stroke="#c0c0c0" stroke-width="0.8"/>
<polygon points="885.59,206.33 885.19,208.31 908.36,194.93 908.75,192.96" fill="#bebebe" stroke="#bebebe" stroke-width="0.8"/>
<polygon points="885.19,208.31 884.72,210.22 907.88,196.85 908.36,194.93" fill="#bcbcbc" stroke="#bcbcbc" stroke-width="0.8"/>
<polygon points="884.72,210.22 884.17,212.06 907.33,198.69 907.88,196.85" fill="#b9b9b9" stroke="#b9b9b9" stroke-width="0.8"/>
<polygon points="884.17,212.06 883.54,213.83 906.70,200.46 907.33,198.69" fill="#b5b5b5" stroke="#b5b5b5" stroke-width="0.8"/>
<polygon points="883.54,213.83 882.83,215.53 905.99,202.15 906.70,200.46" fill="#b2b2b2" stroke="#b2b2b2" stroke-width="0.8"/>
<polygon points="882.83,215.53 882.05,217.14 905.21,203.77 905.99,202.15" fill="#aeaeae" stroke="#aeaeae" stroke-width="0.8"/>
<polygon points="882.05,217.14 881.20,218.68 904.36,205.30 905.21,203.77" fill="#ababab" stroke="#ababab" stroke-width="0.8"/>
<polygon points="881.20,218.68 880.27,220.13 903.43,206.75 904.36,205.30" fill="#a7a7a7" stroke="#a7a7a7" stroke-width="0.8"/>
<polygon points="880.27,220.13 875.89,226.53 899.06,213.15 903.43,206.75" fill="#a6a6a6" stroke="#a6a6a6" stroke-width="0.8"/>
<polygon points="875.89,226.53 875.68,226.80 898.84,213.42 899.06,213.15" fill="#a0a0a0" stroke="#a0a0a0" stroke-width="0.8"/>
<polygon points="875.68,226.80 875.43,227.03 898.60,213.65 898.84,213.42" fill="#939393" stroke="#939393" stroke-width="0.8"/>
<polygon points="875.43,227.03 875.16,227.21 898.32,213.83 898.60,213.65" fill="#878787" stroke="#878787" stroke-width="0.8"/>
<polygon points="828.91,150.85 828.17,151.29 851.33,137.92 852.07,137.48" fill="#838383" stroke="#838383" stroke-width="0.8"/>
<polygon points="828.17,151.29 827.47,151.80 850.64,138.43 851.33,137.92" fill="#8a8a8a" stroke="#8a8a8a" stroke-width="0.8"/>
<polygon points="827.47,151.80 826.82,152.38 849.98,139.01 850.64,138.43" fill="#929292" stroke="#929292" stroke-width="0.8"/>
<polygon points="826.82,152.38 826.21,153.02 849.37,139.65 849.98,139.01" fill="#999999" stroke="#999999" stroke-width="0.8"/>
<polygon points="826.21,153.02 825.65,153.73 848.81,140.35 849.37,139.65" fill="#a0a0a0" stroke="#a0a0a0" stroke-width="0.8"/>
<polygon points="825.65,153.73 825.13,154.50 848.30,141.12 848.81,140.35" fill="#a6a6a6" stroke="#a6a6a6" stroke-width="0.8"/>
<polygon points="825.13,154.50 824.67,155.32 847.84,141.95 848.30,141.12" fill="#ababab" stroke="#ababab" stroke-width="0.8"/>
<polygon points="824.67,155.32 824.26,156.21 847.42,142.83 847.84,141.95" fill="#afafaf" stroke="#afafaf" stroke-width="0.8"/>
<polygon points="824.26,156.21 823.90,157.14 847.06,143.77 847.42,142.83" fill="#b4b4b4" stroke="#b4b4b4" stroke-width="0.8"/>
<polygon points="823.90,157.14 823.59,158.13 846.76,144.76 847.06,143.77" fill="#b8b8b8" stroke="#b8b8b8" stroke-width="0.8"/>
<polygon points="823.59,158.13 823.34,159.17 846.51,145.79 846.76,144.76" fill="#bcbcbc" stroke="#bcbcbc" stroke-width="0.8"/>
<polygon points="823.34,159.17 823.15,160.25 846.31,146.88 846.51,145.79" fill="#bfbfbf" stroke="#bfbfbf" stroke-width="0.8"/>
<polygon points="823.15,160.25 823.00,161.38 846.17,148.00 846.31,146.88" fill="#c2c2c2" stroke="#c2c2c2" stroke-width="0.8"/>
<polygon points="823.00,161.38 822.92,162.54 846.08,149.17 846.17,148.00" fill="#c5c5c5" stroke="#c5c5c5" stroke-width="0.8"/>
<polygon points="822.92,162.54 822.89,163.74 846.06,150.37 846.08,149.17" fill="#c8c8c8" stroke="#c8c8c8" stroke-width="0.8"/>
<polygon points="822.89,163.74 822.77,182.32 845.94,168.94 846.06,150.37" fill="#c9c9c9" stroke="#c9c9c9" stroke-width="0.8"/>
<polygon points="822.77,182.32 822.76,187.45 845.92,174.08 845.94,168.94" fill="#c9c9c9" stroke="#c9c9c9" stroke-width="0.8"/>
<polygon points="822.76,187.45 822.77,192.60 845.93,179.23 845.92,174.08" fill="#c9c9c9" stroke="#c9c9c9" stroke-width="0.8"/>
<polygon points="822.77,192.60 822.81,197.77 845.97,184.39 845.93,179.23" fill="#c9c9c9" stroke="#c9c9c9" stroke-width="0.8"/>
<polygon points="822.81,197.77 822.88,202.95 846.04,189.58 845.97,184.39" fill="#c9c9c9" stroke="#c9c9c9" stroke-width="0.8"/>
<polygon points="822.88,202.95 822.99,208.16 846.15,194.78 846.04,189.58" fill="#cacaca" stroke="#cacaca" stroke-width="0.8"/>
<polygon points="822.99,208.16 823.14,213.39 846.31,200.02 846.15,194.78" fill="#cacaca" stroke="#cacaca" stroke-width="0.8"/>
<polygon points="823.14,213.39 823.35,218.66 846.51,205.28 846.31,200.02" fill="#cacaca" stroke="#cacaca" stroke-width="0.8"/>
<polygon points="823.35,218.66 823.61,223.95 846.78,210.58 846.51,205.28" fill="#cacaca" stroke="#cacaca" stroke-width="0.8"/>
<polygon points="823.61,223.95 823.93,229.28 847.09,215.90 846.78,210.58" fill="#cbcbcb" stroke="#cbcbcb" stroke-width="0.8"/>
<polygon points="823.93,229.28 824.29,234.63 847.45,221.26 847.09,215.90" fill="#cbcbcb" stroke="#cbcbcb" stroke-width="0.8"/>
<polygon points="824.29,234.63 824.70,240.01 847.86,226.64 847.45,221.26" fill="#cbcbcb" stroke="#cbcbcb" stroke-width="0.8"/>
<polygon points="824.70,240.01 825.14,245.41 848.31,232.04 847.86,226.64" fill="#cbcbcb" stroke="#cbcbcb" stroke-width="0.8"/>
<polygon points="825.14,245.41 825.63,250.84 848.79,237.46 848.31,232.04" fill="#cccccc" stroke="#cccccc" stroke-width="0.8"/>
<polygon points="825.63,250.84 826.15,256.28 849.31,242.90 848.79,237.46" fill="#cccccc" stroke="#cccccc" stroke-width="0.8"/>
<polygon points="826.15,256.28 826.69,261.74 849.85,248.36 849.31,242.90" fill="#cccccc" stroke="#cccccc" stroke-width="0.8"/>
<polygon points="826.69,261.74 827.26,267.21 850.42,253.83 849.85,248.36" fill="#cccccc" stroke="#cccccc" stroke-width="0.8"/>
<polygon points="827.26,267.21 827.85,272.69 851.01,259.32 850.42,253.83" fill="#d2d2d2" stroke="#d2d2d2" stroke-width="0.8"/>
<polygon points="827.85,272.69 828.45,278.19 851.62,264.81 851.01,259.32" fill="#d2d2d2" stroke="#d2d2d2" stroke-width="0.8"/>
<polygon points="828.45,278.19 829.08,283.69 852.24,270.32 851.62,264.81" fill="#d2d2d2" stroke="#d2d2d2" stroke-width="0.8"/>
<polygon points="829.08,283.69 829.73,289.21 852.90,275.84 852.24,270.32" fill="#d2d2d2" stroke="#d2d2d2" stroke-width="0.8"/>
<polygon points="829.73,289.21 830.41,294.75 853.58,281.38 852.90,275.84" fill="#d2d2d2" stroke="#d2d2d2" stroke-width="0.8"/>
<polygon points="830.41,294.75 831.13,300.31 854.29,286.93 853.58,281.38" fill="#d2d2d2" stroke="#d2d2d2" stroke-width="0.8"/>
<polygon points="831.13,300.31 831.88,305.89 855.05,292.51 854.29,286.93" fill="#d2d2d2" stroke="#d2d2d2" stroke-width="0.8"/>
<polygon points="831.88,305.89 832.68,311.49 855.85,298.12 855.05,292.51" fill="#d2d2d2" stroke="#d2d2d2" stroke-width="0.8"/>
<polygon points="832.68,311.49 833.52,317.12 856.69,303.75 855.85,298.12" fill="#d2d2d2" stroke="#d2d2d2" stroke-width="0.8"/>
<polygon points="833.52,317.12 834.40,322.77 857.57,309.40 856.69,303.75" fill="#d2d2d2" stroke="#d2d2d2" stroke-width="0.8"/>
<polygon points="834.40,322.77 835.32,328.44 858.48,315.07 857.57,309.40" fill="#d2d2d2" stroke="#d2d2d2" stroke-width="0.8"/>
<polygon points="835.32,328.44 836.26,334.14 859.43,320.76 858.48,315.07" fill="#d2d2d2" stroke="#d2d2d2" stroke-width="0.8"/>
<polygon points="836.26,334.14 837.26,339.86 860.43,326.48 859.43,320.76" fill="#d2d2d2" stroke="#d2d2d2" stroke-width="0.8"/>
<polygon points="837.26,339.86 838.32,345.61 861.48,332.24 860.43,326.48" fill="#d2d2d2" stroke="#d2d2d2" stroke-width="0.8"/>
<polygon points="838.32,345.61 839.43,351.40 862.60,338.02 861.48,332.24" fill="#d2d2d2" stroke="#d2d2d2" stroke-width="0.8"/>
<polygon points="839.43,351.40 840.61,357.22 863.77,343.84 862.60,338.02" fill="#d2d2d2" stroke="#d2d2d2" stroke-width="0.8"/>
<polygon points="840.61,357.22 841.84,363.08 865.01,349.70 863.77,343.84" fill="#d3d3d3" stroke="#d3d3d3" stroke-width="0.8"/>
<polygon points="841.84,363.08 843.14,368.97 866.31,355.60 865.01,349.70" fill="#d3d3d3" stroke="#d3d3d3" stroke-width="0.8"/>
<polygon points="843.14,368.97 844.51,374.90 867.67,361.53 866.31,355.60" fill="#d3d3d3" stroke="#d3d3d3" stroke-width="0.8"/>
<polygon points="844.51,374.90 845.94,380.87 869.10,367.50 867.67,361.53" fill="#d3d3d3" stroke="#d3d3d3" stroke-width="0.8"/>
<polygon points="845.94,380.87 847.43,386.88 870.59,373.50 869.10,367.50" fill="#d3d3d3" stroke="#d3d3d3" stroke-width="0.8"/>
<polygon points="847.43,386.88 848.96,392.91 872.13,379.53 870.59,373.50" fill="#d3d3d3" stroke="#d3d3d3" stroke-width="0.8"/>
<polygon points="848.96,392.91 850.54,398.96 873.71,385.59 872.13,379.53" fill="#d3d3d3" stroke="#d3d3d3" stroke-width="0.8"/>
<polygon points="850.54,398.96 868.66,468.10 891.82,454.72 873.71,385.59" fill="#d3d3d3" stroke="#d3d3d3" stroke-width="0.8"/>
<polygon points="868.66,468.10 869.29,470.66 892.45,457.29 891.82,454.72" fill="#d3d3d3" stroke="#d3d3d3" stroke-width="0.8"/>
<polygon points="869.29,470.66 869.81,473.20 892.97,459.82 892.45,457.29" fill="#d2d2d2" stroke="#d2d2d2" stroke-width="0.8"/>
<polygon points="869.81,473.20 870.21,475.70 893.38,462.33 892.97,459.82" fill="#d2d2d2" stroke="#d2d2d2" stroke-width="0.8"/>
<polygon points="870.21,475.70 870.50,478.16 893.67,464.79 893.38,462.33" fill="#d2d2d2" stroke="#d2d2d2" stroke-width="0.8"/>
<polygon points="870.50,478.16 870.67,480.57 893.84,467.20 893.67,464.79" fill="#d1d1d1" stroke="#d1d1d1" stroke-width="0.8"/>
<polygon points="870.67,480.57 870.73,482.92 893.90,469.55 893.84,467.20" fill="#d1d1d1" stroke="#d1d1d1" stroke-width="0.8"/>
<polygon points="870.73,482.92 870.73,527.07 893.90,513.70 893.90,469.55" fill="#d1d1d1" stroke="#d1d1d1" stroke-width="0.8"/>
<polygon points="870.73,527.07 870.70,528.74 893.87,515.37 893.90,513.70" fill="#d0d0d0" stroke="#d0d0d0" stroke-width="0.8"/>
<polygon points="870.70,528.74 870.62,530.37 893.78,517.00 893.87,515.37" fill="#cfcfcf" stroke="#cfcfcf" stroke-width="0.8"/>
<polygon points="870.62,530.37 870.48,531.97 893.64,518.59 893.78,517.00" fill="#cdcdcd" stroke="#cdcdcd" stroke-width="0.8"/>
<polygon points="870.48,531.97 870.28,533.52 893.44,520.14 893.64,518.59" fill="#cccccc" stroke="#cccccc" stroke-width="0.8"/>
<polygon points="870.28,533.52 870.02,535.03 893.18,521.65 893.44,520.14" fill="#cacaca" stroke="#cacaca" stroke-width="0.8"/>
<polygon points="870.02,535.03 869.71,536.49 892.87,523.12 893.18,521.65" fill="#c9c9c9" stroke="#c9c9c9" stroke-width="0.8"/>
<polygon points="869.71,536.49 869.34,537.91 892.50,524.54 892.87,523.12" fill="#c7c7c7" stroke="#c7c7c7" stroke-width="0.8"/>
<polygon points="869.34,537.91 868.91,539.28 892.08,525.90 892.50,524.54" fill="#c6c6c6" stroke="#c6c6c6" stroke-width="0.8"/>
<polygon points="868.91,539.28 868.44,540.59 891.60,527.22 892.08,525.90" fill="#c5c5c5" stroke="#c5c5c5" stroke-width="0.8"/>
<polygon points="868.44,540.59 867.91,541.85 891.07,528.48 891.60,527.22" fill="#c2c2c2" stroke="#c2c2c2" stroke-width="0.8"/>
<polygon points="867.91,541.85 867.32,543.06 890.49,529.69 891.07,528.48" fill="#bebebe" stroke="#bebebe" stroke-width="0.8"/>
<polygon points="867.32,543.06 866.68,544.21 889.85,530.83 890.49,529.69" fill="#bababa" stroke="#bababa" stroke-width="0.8"/>
<polygon points="866.68,544.21 866.00,545.30 889.16,531.92 889.85,530.83" fill="#b6b6b6" stroke="#b6b6b6" stroke-width="0.8"/>
<polygon points="866.00,545.30 865.26,546.32 888.42,532.95 889.16,531.92" fill="#b2b2b2" stroke="#b2b2b2" stroke-width="0.8"/>
<polygon points="865.26,546.32 864.47,547.29 887.64,533.91 888.42,532.95" fill="#aeaeae" stroke="#aeaeae" stroke-width="0.8"/>
<polygon points="864.47,547.29 863.64,548.19 886.80,534.82 887.64,533.91" fill="#aaaaaa" stroke="#aaaaaa" stroke-width="0.8"/>
<polygon points="863.64,548.19 862.76,549.02 885.92,535.65 886.80,534.82" fill="#a3a3a3" stroke="#a3a3a3" stroke-width="0.8"/>
<polygon points="862.76,549.02 861.83,549.79 885.00,536.42 885.92,535.65" fill="#9b9b9b" stroke="#9b9b9b" stroke-width="0.8"/>
<polygon points="861.83,549.79 860.86,550.49 884.03,537.12 885.00,536.42" fill="#939393" stroke="#939393" stroke-width="0.8"/>
<polygon points="860.86,550.49 859.85,551.12 883.02,537.75 884.03,537.12" fill="#8b8b8b" stroke="#8b8b8b" stroke-width="0.8"/>
<polygon points="820.35,482.87 819.51,483.41 842.68,470.04 843.52,469.49" fill="#cfcfcf" stroke="#cfcfcf" stroke-width="1.2"/>
<polygon points="819.51,483.41 818.74,484.06 841.90,470.69 842.68,470.04" fill="#cfcfcf" stroke="#cfcfcf" stroke-width="1.2"/>
<polygon points="818.74,484.06 818.02,484.80 841.19,471.42 841.90,470.69" fill="#cfcfcf" stroke="#cfcfcf" stroke-width="1.2"/>
<polygon points="818.02,484.80 817.38,485.62 840.54,472.25 841.19,471.42" fill="#cfcfcf" stroke="#cfcfcf" stroke-width="1.2"/>
<polygon points="817.38,485.62 816.80,486.54 839.96,473.16 840.54,472.25" fill="#cfcfcf" stroke="#cfcfcf" stroke-width="1.2"/>
<polygon points="816.80,486.54 816.29,487.53 839.46,474.16 839.96,473.16" fill="#cfcfcf" stroke="#cfcfcf" stroke-width="1.2"/>
<polygon points="816.29,487.53 815.86,488.61 839.03,475.24 839.46,474.16" fill="#cfcfcf" stroke="#cfcfcf" stroke-width="1.2"/>
<polygon points="815.86,488.61 815.51,489.76 838.67,476.38 839.03,475.24" fill="#cfcfcf" stroke="#cfcfcf" stroke-width="1.2"/>
<polygon points="815.51,489.76 815.23,490.97 838.39,477.60 838.67,476.38" fill="#cfcfcf" stroke="#cfcfcf" stroke-width="1.2"/>
<polygon points="815.23,490.97 815.03,492.25 838.19,478.88 838.39,477.60" fill="#cfcfcf" stroke="#cfcfcf" stroke-width="1.2"/>
<polygon points="815.03,492.25 814.91,493.59 838.07,480.22 838.19,478.88" fill="#cfcfcf" stroke="#cfcfcf" stroke-width="1.2"/>
<polygon points="814.91,493.59 814.87,494.98 838.03,481.61 838.07,480.22" fill="#cfcfcf" stroke="#cfcfcf" stroke-width="1.2"/>
<polygon points="814.87,494.98 814.91,496.42 838.07,483.04 838.03,481.61" fill="#cfcfcf" stroke="#cfcfcf" stroke-width="1.2"/>
<polygon points="814.91,496.42 815.03,497.90 838.19,484.52 838.07,483.04" fill="#cfcfcf" stroke="#cfcfcf" stroke-width="1.2"/>
<polygon points="815.03,497.90 815.23,499.41 838.39,486.03 838.19,484.52" fill="#cfcfcf" stroke="#cfcfcf" stroke-width="1.2"/>
<polygon points="815.23,499.41 815.51,500.94 838.67,487.57 838.39,486.03" fill="#cfcfcf" stroke="#cfcfcf" stroke-width="1.2"/>
<polygon points="815.51,500.94 815.86,502.50 839.03,489.13 838.67,487.57" fill="#cfcfcf" stroke="#cfcfcf" stroke-width="1.2"/>
<polygon points="815.86,502.50 816.29,504.07 839.46,490.70 839.03,489.13" fill="#cfcfcf" stroke="#cfcfcf" stroke-width="1.2"/>
<polygon points="816.29,504.07 816.80,505.65 839.96,492.28 839.46,490.70" fill="#cfcfcf" stroke="#cfcfcf" stroke-width="1.2"/>
<polygon points="816.80,505.65 817.38,507.24 840.54,493.86 839.96,492.28" fill="#cfcfcf" stroke="#cfcfcf" stroke-width="1.2"/>
<polygon points="817.38,507.24 818.02,508.81 841.19,495.44 840.54,493.86" fill="#cfcfcf" stroke="#cfcfcf" stroke-width="1.2"/>
<polygon points="818.02,508.81 818.74,510.37 841.90,497.00 841.19,495.44" fill="#cfcfcf" stroke="#cfcfcf" stroke-width="1.2"/>
<polygon points="818.74,510.37 819.51,511.91 842.68,498.54 841.90,497.00" fill="#cfcfcf" stroke="#cfcfcf" stroke-width="1.2"/>
<polygon points="819.51,511.91 820.35,513.43 843.52,500.05 842.68,498.54" fill="#cfcfcf" stroke="#cfcfcf" stroke-width="1.2"/>
<polygon points="820.35,513.43 821.24,514.91 844.41,501.54 843.52,500.05" fill="#cfcfcf" stroke="#cfcfcf" stroke-width="1.2"/>
<polygon points="821.24,514.91 822.19,516.35 845.36,502.98 844.41,501.54" fill="#cfcfcf" stroke="#cfcfcf" stroke-width="1.2"/>
<polygon points="822.19,516.35 823.19,517.75 846.35,504.38 845.36,502.98" fill="#cfcfcf" stroke="#cfcfcf" stroke-width="1.2"/>
<polygon points="823.19,517.75 824.23,519.10 847.39,505.73 846.35,504.38" fill="#cfcfcf" stroke="#cfcfcf" stroke-width="1.2"/>
<polygon points="824.23,519.10 825.31,520.39 848.47,507.02 847.39,505.73" fill="#cfcfcf" stroke="#cfcfcf" stroke-width="1.2"/>
<polygon points="825.31,520.39 826.42,521.62 849.59,508.24 848.47,507.02" fill="#cfcfcf" stroke="#cfcfcf" stroke-width="1.2"/>
<polygon points="826.42,521.62 827.57,522.78 850.73,509.40 849.59,508.24" fill="#cfcfcf" stroke="#cfcfcf" stroke-width="1.2"/>
<polygon points="827.57,522.78 828.74,523.87 851.91,510.49 850.73,509.40" fill="#cfcfcf" stroke="#cfcfcf" stroke-width="1.2"/>
<polygon points="828.74,523.87 829.93,524.88 853.10,511.50 851.91,510.49" fill="#cfcfcf" stroke="#cfcfcf" stroke-width="1.2"/>
<polygon points="829.93,524.88 831.14,525.80 854.31,512.43 853.10,511.50" fill="#cfcfcf" stroke="#cfcfcf" stroke-width="1.2"/>
<polygon points="831.14,525.80 832.36,526.65 855.53,513.27 854.31,512.43" fill="#cfcfcf" stroke="#cfcfcf" stroke-width="1.2"/>
<polygon points="832.36,526.65 833.58,527.40 856.75,514.02 855.53,513.27" fill="#cfcfcf" stroke="#cfcfcf" stroke-width="1.2"/>
<polygon points="833.58,527.40 834.81,528.06 857.97,514.68 856.75,514.02" fill="#cfcfcf" stroke="#cfcfcf" stroke-width="1.2"/>
<polygon points="834.81,528.06 836.03,528.62 859.19,515.25 857.97,514.68" fill="#cfcfcf" stroke="#cfcfcf" stroke-width="1.2"/>
<polygon points="836.03,528.62 837.24,529.09 860.40,515.72 859.19,515.25" fill="#cfcfcf" stroke="#cfcfcf" stroke-width="1.2"/>
<polygon points="837.24,529.09 838.43,529.46 861.59,516.08 860.40,515.72" fill="#cfcfcf" stroke="#cfcfcf" stroke-width="1.2"/>
<polygon points="838.43,529.46 839.60,529.72 862.77,516.35 861.59,516.08" fill="#cfcfcf" stroke="#cfcfcf" stroke-width="1.2"/>
<polygon points="839.60,529.72 840.75,529.89 863.91,516.51 862.77,516.35" fill="#cfcfcf" stroke="#cfcfcf" stroke-width="1.2"/>
<polygon points="840.75,529.89 841.86,529.95 865.03,516.57 863.91,516.51" fill="#cfcfcf" stroke="#cfcfcf" stroke-width="1.2"/>
<polygon points="841.86,529.95 842.94,529.91 866.11,516.53 865.03,516.57" fill="#cfcfcf" stroke="#cfcfcf" stroke-width="1.2"/>
<polygon points="842.94,529.91 843.98,529.76 867.15,516.39 866.11,516.53" fill="#cfcfcf" stroke="#cfcfcf" stroke-width="1.2"/>
<polygon points="843.98,529.76 844.98,529.51 868.14,516.14 867.15,516.39" fill="#cfcfcf" stroke="#cfcfcf" stroke-width="1.2"/>
<polygon points="844.98,529.51 845.92,529.16 869.09,515.79 868.14,516.14" fill="#cfcfcf" stroke="#cfcfcf" stroke-width="1.2"/>
<polygon points="845.92,529.16 846.82,528.71 869.98,515.34 869.09,515.79" fill="#cfcfcf" stroke="#cfcfcf" stroke-width="1.2"/>
<polygon points="820.35,482.87 819.51,483.41 842.68,470.04 843.52,469.49" fill="#bdbdbd" stroke="#bdbdbd" stroke-width="0.8"/>
<polygon points="819.51,483.41 818.74,484.06 841.90,470.69 842.68,470.04" fill="#bebebe" stroke="#bebebe" stroke-width="0.8"/>
<polygon points="818.74,484.06 818.02,484.80 841.19,471.42 841.90,470.69" fill="#bfbfbf" stroke="#bfbfbf" stroke-width="0.8"/>
<polygon points="818.02,484.80 817.38,485.62 840.54,472.25 841.19,471.42" fill="#c0c0c0" stroke="#c0c0c0" stroke-width="0.8"/>
<polygon points="817.38,485.62 816.80,486.54 839.96,473.16 840.54,472.25" fill="#c0c0c0" stroke="#c0c0c0" stroke-width="0.8"/>
<polygon points="816.80,486.54 816.29,487.53 839.46,474.16 839.96,473.16" fill="#c1c1c1" stroke="#c1c1c1" stroke-width="0.8"/>
<polygon points="816.29,487.53 815.86,488.61 839.03,475.24 839.46,474.16" fill="#c2c2c2" stroke="#c2c2c2" stroke-width="0.8"/>
<polygon points="815.86,488.61 815.51,489.76 838.67,476.38 839.03,475.24" fill="#c3c3c3" stroke="#c3c3c3" stroke-width="0.8"/>
<polygon points="815.51,489.76 815.23,490.97 838.39,477.60 838.67,476.38" fill="#c3c3c3" stroke="#c3c3c3" stroke-width="0.8"/>
<polygon points="815.23,490.97 815.03,492.25 838.19,478.88 838.39,477.60" fill="#c4c4c4" stroke="#c4c4c4" stroke-width="0.8"/>
<polygon points="815.03,492.25 814.91,493.59 838.07,480.22 838.19,478.88" fill="#c5c5c5" stroke="#c5c5c5" stroke-width="0.8"/>
<polygon points="814.91,493.59 814.87,494.98 838.03,481.61 838.07,480.22" fill="#c6c6c6" stroke="#c6c6c6" stroke-width="0.8"/>
<polygon points="814.87,494.98 814.91,496.42 838.07,483.04 838.03,481.61" fill="#c6c6c6" stroke="#c6c6c6" stroke-width="0.8"/>
<polygon points="814.91,496.42 815.03,497.90 838.19,484.52 838.07,483.04" fill="#c7c7c7" stroke="#c7c7c7" stroke-width="0.8"/>
<polygon points="815.03,497.90 815.23,499.41 838.39,486.03 838.19,484.52" fill="#c8c8c8" stroke="#c8c8c8" stroke-width="0.8"/>
<polygon points="815.23,499.41 815.51,500.94 838.67,487.57 838.39,486.03" fill="#c9c9c9" stroke="#c9c9c9" stroke-width="0.8"/>
<polygon points="815.51,500.94 815.86,502.50 839.03,489.13 838.67,487.57" fill="#c9c9c9" stroke="#c9c9c9" stroke-width="0.8"/>
<polygon points="815.86,502.50 816.29,504.07 839.46,490.70 839.03,489.13" fill="#cacaca" stroke="#cacaca" stroke-width="0.8"/>
<polygon points="816.29,504.07 816.80,505.65 839.96,492.28 839.46,490.70" fill="#cbcbcb" stroke="#cbcbcb" stroke-width="0.8"/>
<polygon points="816.80,505.65 817.38,507.24 840.54,493.86 839.96,492.28" fill="#cccccc" stroke="#cccccc" stroke-width="0.8"/>
<polygon points="817.38,507.24 818.02,508.81 841.19,495.44 840.54,493.86" fill="#cccccc" stroke="#cccccc" stroke-width="0.8"/>
<polygon points="818.02,508.81 818.74,510.37 841.90,497.00 841.19,495.44" fill="#cdcdcd" stroke="#cdcdcd" stroke-width="0.8"/>
<polygon points="818.74,510.37 819.51,511.91 842.68,498.54 841.90,497.00" fill="#cecece" stroke="#cecece" stroke-width="0.8"/>
<polygon points="819.51,511.91 820.35,513.43 843.52,500.05 842.68,498.54" fill="#cfcfcf" stroke="#cfcfcf" stroke-width="0.8"/>
<polygon points="820.35,513.43 821.24,514.91 844.41,501.54 843.52,500.05" fill="#cfcfcf" stroke="#cfcfcf" stroke-width="0.8"/>
<polygon points="821.24,514.91 822.19,516.35 845.36,502.98 844.41,501.54" fill="#d0d0d0" stroke="#d0d0d0" stroke-width="0.8"/>
<polygon points="822.19,516.35 823.19,517.75 846.35,504.38 845.36,502.98" fill="#d1d1d1" stroke="#d1d1d1" stroke-width="0.8"/>
<polygon points="823.19,517.75 824.23,519.10 847.39,505.73 846.35,504.38" fill="#d2d2d2" stroke="#d2d2d2" stroke-width="0.8"/>
<polygon points="824.23,519.10 825.31,520.39 848.47,507.02 847.39,505.73" fill="#d2d2d2" stroke="#d2d2d2" stroke-width="0.8"/>
<polygon points="825.31,520.39 826.42,521.62 849.59,508.24 848.47,507.02" fill="#d3d3d3" stroke="#d3d3d3" stroke-width="0.8"/>
<polygon points="826.42,521.62 827.57,522.78 850.73,509.40 849.59,508.24" fill="#d4d4d4" stroke="#d4d4d4" stroke-width="0.8"/>
<polygon points="827.57,522.78 828.74,523.87 851.91,510.49 850.73,509.40" fill="#d5d5d5" stroke="#d5d5d5" stroke-width="0.8"/>
<polygon points="828.74,523.87 829.93,524.88 853.10,511.50 851.91,510.49" fill="#d5d5d5" stroke="#d5d5d5" stroke-width="0.8"/>
<polygon points="829.93,524.88 831.14,525.80 854.31,512.43 853.10,511.50" fill="#d6d6d6" stroke="#d6d6d6" stroke-width="0.8"/>
<polygon points="831.14,525.80 832.36,526.65 855.53,513.27 854.31,512.43" fill="#d7d7d7" stroke="#d7d7d7" stroke-width="0.8"/>
<polygon points="832.36,526.65 833.58,527.40 856.75,514.02 855.53,513.27" fill="#d8d8d8" stroke="#d8d8d8" stroke-width="0.8"/>
<polygon points="833.58,527.40 834.81,528.06 857.97,514.68 856.75,514.02" fill="#d8d8d8" stroke="#d8d8d8" stroke-width="0.8"/>
<polygon points="834.81,528.06 836.03,528.62 859.19,515.25 857.97,514.68" fill="#d9d9d9" stroke="#d9d9d9" stroke-width="0.8"/>
<polygon points="836.03,528.62 837.24,529.09 860.40,515.72 859.19,515.25" fill="#dadada" stroke="#dadada" stroke-width="0.8"/>
<polygon points="837.24,529.09 838.43,529.46 861.59,516.08 860.40,515.72" fill="#dbdbdb" stroke="#dbdbdb" stroke-width="0.8"/>
<polygon points="838.43,529.46 839.60,529.72 862.77,516.35 861.59,516.08" fill="#dbdbdb" stroke="#dbdbdb" stroke-width="0.8"/>
<polygon points="839.60,529.72 840.75,529.89 863.91,516.51 862.77,516.35" fill="#dcdcdc" stroke="#dcdcdc" stroke-width="0.8"/>
<polygon points="840.75,529.89 841.86,529.95 865.03,516.57 863.91,516.51" fill="#dddddd" stroke="#dddddd" stroke-width="0.8"/>
<polygon points="841.86,529.95 842.94,529.91 866.11,516.53 865.03,516.57" fill="#dedede" stroke="#dedede" stroke-width="0.8"/>
<polygon points="842.94,529.91 843.98,529.76 867.15,516.39 866.11,516.53" fill="#dedede" stroke="#dedede" stroke-width="0.8"/>
<polygon points="843.98,529.76 844.98,529.51 868.14,516.14 867.15,516.39" fill="#dfdfdf" stroke="#dfdfdf" stroke-width="0.8"/>
<polygon points="844.98,529.51 845.92,529.16 869.09,515.79 868.14,516.14" fill="#e0e0e0" stroke="#e0e0e0" stroke-width="0.8"/>
<polygon points="845.92,529.16 846.82,528.71 869.98,515.34 869.09,515.79" fill="#e1e1e1" stroke="#e1e1e1" stroke-width="0.8"/>
<path d="M784.28,58.14 L784.57,58.05 L784.91,58.09 L785.28,58.24 L867.03,105.44 L868.14,106.11 L869.25,106.81 L870.36,107.56 L871.47,108.35 L872.58,109.18 L873.68,110.06 L874.78,110.97 L875.88,111.93 L876.98,112.93 L878.08,113.97 L879.17,115.06 L880.27,116.18 L881.15,117.13 L882.03,118.09 L883.79,120.08 L885.51,122.14 L887.19,124.25 L888.83,126.43 L890.42,128.65 L891.97,130.92 L893.46,133.23 L894.91,135.58 L896.29,137.97 L897.62,140.39 L898.89,142.83 L900.09,145.30 L901.23,147.79 L902.31,150.29 L903.31,152.81 L904.25,155.33 L905.11,157.85 L905.90,160.36 L906.61,162.87 L907.25,165.37 L907.82,167.86 L908.30,170.32 L908.71,172.76 L909.04,175.17 L909.28,177.55 L909.45,179.89 L909.54,182.19 L909.54,184.45 L909.46,186.66 L909.31,188.81 L909.07,190.91 L908.75,192.96 L908.36,194.93 L907.88,196.85 L907.33,198.69 L906.70,200.46 L905.99,202.15 L905.21,203.77 L904.36,205.30 L903.43,206.75 L899.06,213.15 L898.84,213.42 L898.60,213.65 L898.32,213.83" fill="none" stroke="#111" stroke-width="1.3" stroke-linejoin="round" stroke-linecap="round"/>
<path d="M852.07,137.48 L851.33,137.92 L850.64,138.43 L849.98,139.01 L849.37,139.65 L848.81,140.35 L848.30,141.12 L847.84,141.95 L847.42,142.83 L847.06,143.77 L846.76,144.76 L846.51,145.79 L846.31,146.88 L846.17,148.00 L846.08,149.17 L846.06,150.37 L845.94,168.94 L845.92,174.08 L845.93,179.23 L845.97,184.39 L846.04,189.58 L846.15,194.78 L846.31,200.02 L846.51,205.28 L846.78,210.58 L847.09,215.90 L847.45,221.26 L847.86,226.64 L848.31,232.04 L848.79,237.46 L849.31,242.90 L849.85,248.36 L850.42,253.83 L851.01,259.32 L851.62,264.81 L852.24,270.32 L852.90,275.84 L853.58,281.38 L854.29,286.93 L855.05,292.51 L855.85,298.12 L856.69,303.75 L857.57,309.40 L858.48,315.07 L859.43,320.76 L860.43,326.48 L861.48,332.24 L862.60,338.02 L863.77,343.84 L865.01,349.70 L866.31,355.60 L867.67,361.53 L869.10,367.50 L870.59,373.50 L872.13,379.53 L873.71,385.59 L891.82,454.72 L892.45,457.29 L892.97,459.82 L893.38,462.33 L893.67,464.79 L893.84,467.20 L893.90,469.55 L893.90,513.70 L893.87,515.37 L893.78,517.00 L893.64,518.59 L893.44,520.14 L893.18,521.65 L892.87,523.12 L892.50,524.54 L892.08,525.90 L891.60,527.22 L891.07,528.48 L890.49,529.69 L889.85,530.83 L889.16,531.92 L888.42,532.95 L887.64,533.91 L886.80,534.82 L885.92,535.65 L885.00,536.42 L884.03,537.12 L883.02,537.75" fill="none" stroke="#111" stroke-width="1.3" stroke-linejoin="round" stroke-linecap="round"/>
<line x1="761.11" y1="71.52" x2="784.28" y2="58.14" stroke="#111" stroke-width="1.3" />
<line x1="875.16" y1="227.21" x2="898.32" y2="213.83" stroke="#111" stroke-width="2.0" />
<line x1="828.91" y1="150.85" x2="852.07" y2="137.48" stroke="#111" stroke-width="1.3" />
<line x1="859.85" y1="551.12" x2="883.02" y2="537.75" stroke="#111" stroke-width="1.3" />
<path d="M843.52,469.49 L842.68,470.04 L841.90,470.69 L841.19,471.42 L840.54,472.25 L839.96,473.16 L839.46,474.16 L839.03,475.24 L838.67,476.38 L838.39,477.60 L838.19,478.88 L838.07,480.22 L838.03,481.61 L838.07,483.04 L838.19,484.52 L838.39,486.03 L838.67,487.57 L839.03,489.13 L839.46,490.70 L839.96,492.28 L840.54,493.86 L841.19,495.44 L841.90,497.00 L842.68,498.54 L843.52,500.05 L844.41,501.54 L845.36,502.98 L846.35,504.38 L847.39,505.73 L848.47,507.02 L849.59,508.24 L850.73,509.40 L851.91,510.49 L853.10,511.50 L854.31,512.43 L855.53,513.27 L856.75,514.02 L857.97,514.68 L859.19,515.25 L860.40,515.72 L861.59,516.08 L862.77,516.35 L863.91,516.51 L865.03,516.57 L866.11,516.53 L867.15,516.39 L868.14,516.14 L869.09,515.79 L869.98,515.34" fill="none" stroke="#111" stroke-width="1.3" stroke-linejoin="round" stroke-linecap="round"/>
<line x1="820.35" y1="482.87" x2="843.52" y2="469.49" stroke="#111" stroke-width="1.3" />
<line x1="846.82" y1="528.71" x2="869.98" y2="515.34" stroke="#111" stroke-width="1.3" />
<line x1="847.20" y1="120.93" x2="870.36" y2="107.56" stroke="#111" stroke-width="0.9" />
<line x1="858.87" y1="131.46" x2="882.03" y2="118.09" stroke="#111" stroke-width="0.9" />
<line x1="822.89" y1="163.74" x2="846.06" y2="150.37" stroke="#111" stroke-width="0.9" />
<line x1="868.66" y1="468.10" x2="891.82" y2="454.72" stroke="#111" stroke-width="0.9" />
<line x1="870.73" y1="482.92" x2="893.90" y2="469.55" stroke="#111" stroke-width="0.9" />
<line x1="870.63" y1="530.27" x2="893.79" y2="516.90" stroke="#111" stroke-width="0.9" />
<path d="M760.70,72.43 L760.75,72.04 L760.89,71.72 L761.11,71.52 L761.41,71.43 L761.75,71.46 L762.11,71.62 L843.87,118.82 L844.98,119.48 L846.09,120.19 L847.20,120.93 L848.31,121.72 L849.41,122.56 L850.52,123.43 L851.62,124.35 L852.72,125.30 L853.82,126.30 L854.91,127.35 L856.01,128.43 L857.10,129.56 L857.99,130.50 L858.87,131.46 L860.63,133.46 L862.35,135.51 L864.03,137.63 L865.67,139.80 L867.26,142.02 L868.81,144.29 L870.30,146.60 L871.74,148.96 L873.13,151.34 L874.46,153.76 L875.72,156.21 L876.93,158.68 L878.07,161.17 L879.14,163.67 L880.15,166.18 L881.08,168.70 L881.94,171.22 L882.73,173.74 L883.45,176.25 L884.09,178.75 L884.65,181.23 L885.14,183.69 L885.54,186.13 L885.87,188.54 L886.12,190.92 L886.28,193.26 L886.37,195.57 L886.38,197.82 L886.30,200.03 L886.14,202.19 L885.91,204.29 L885.59,206.33 L885.19,208.31 L884.72,210.22 L884.17,212.06 L883.54,213.83 L882.83,215.53 L882.05,217.14 L881.20,218.68 L880.27,220.13 L875.89,226.53 L875.68,226.80 L875.43,227.03 L875.16,227.21 L874.85,227.34 L874.53,227.43 L874.18,227.47 L873.81,227.46 L873.43,227.40 L873.04,227.30 L872.64,227.14 L872.24,226.94 L871.83,226.69 L871.43,226.41 L871.04,226.08 L870.65,225.71 L870.28,225.32 L869.92,224.89 L869.58,224.43 L869.27,223.96 L868.98,223.46 L868.72,222.95 L868.49,222.44 L868.29,221.91 L868.13,221.39 L861.62,197.81 L861.62,193.33 L861.75,191.53 L861.96,189.79 L862.25,188.05 L862.30,186.86 L862.29,185.64 L862.22,184.39 L862.10,183.11 L861.92,181.80 L861.68,180.48 L861.39,179.14 L861.05,177.79 L860.65,176.43 L860.20,175.07 L859.71,173.71 L859.16,172.36 L858.56,171.01 L857.92,169.67 L857.24,168.35 L856.51,167.05 L855.75,165.77 L854.94,164.52 L854.10,163.29 L853.23,162.11 L852.33,160.95 L851.40,159.84 L850.44,158.78 L849.46,157.76 L848.47,156.79 L847.45,155.87 L846.42,155.01 L845.38,154.20 L844.34,153.46 L843.28,152.78 L842.23,152.16 L841.18,151.61 L840.13,151.12 L839.08,150.70 L838.05,150.36 L837.03,150.08 L836.03,149.88 L835.04,149.74 L834.08,149.68 L833.14,149.70 L832.23,149.78 L831.35,149.94 L830.50,150.17 L829.69,150.48 L828.91,150.85 L828.17,151.29 L827.47,151.80 L826.82,152.38 L826.21,153.02 L825.65,153.73 L825.13,154.50 L824.67,155.32 L824.26,156.21 L823.90,157.14 L823.59,158.13 L823.34,159.17 L823.15,160.25 L823.00,161.38 L822.92,162.54 L822.89,163.74 L822.77,182.32 L822.76,187.45 L822.77,192.60 L822.81,197.77 L822.88,202.95 L822.99,208.16 L823.14,213.39 L823.35,218.66 L823.61,223.95 L823.93,229.28 L824.29,234.63 L824.70,240.01 L825.14,245.41 L825.63,250.84 L826.15,256.28 L826.69,261.74 L827.26,267.21 L827.85,272.69 L828.45,278.19 L829.08,283.69 L829.73,289.21 L830.41,294.75 L831.13,300.31 L831.88,305.89 L832.68,311.49 L833.52,317.12 L834.40,322.77 L835.32,328.44 L836.26,334.14 L837.26,339.86 L838.32,345.61 L839.43,351.40 L840.61,357.22 L841.84,363.08 L843.14,368.97 L844.51,374.90 L845.94,380.87 L847.43,386.88 L848.96,392.91 L850.54,398.96 L868.66,468.10 L869.29,470.66 L869.81,473.20 L870.21,475.70 L870.50,478.16 L870.67,480.57 L870.73,482.92 L870.73,527.07 L870.70,528.74 L870.62,530.37 L870.48,531.97 L870.28,533.52 L870.02,535.03 L869.71,536.49 L869.34,537.91 L868.91,539.28 L868.44,540.59 L867.91,541.85 L867.32,543.06 L866.68,544.21 L866.00,545.30 L865.26,546.32 L864.47,547.29 L863.64,548.19 L862.76,549.02 L861.83,549.79 L860.86,550.49 L859.85,551.12 L858.80,551.68 L857.71,552.17 L856.58,552.59 L855.42,552.93 L854.22,553.21 L852.99,553.41 L851.74,553.53 L850.45,553.58 L849.14,553.56 L847.80,553.46 L846.44,553.29 L845.06,553.05 L843.67,552.73 L842.26,552.34 L840.83,551.88 L839.40,551.35 L837.95,550.74 L836.50,550.07 L835.04,549.33 L833.58,548.52 L762.11,507.26 L761.75,506.99 L761.41,506.63 L761.11,506.20 L760.89,505.73 L760.75,505.26 L760.70,504.81 Z M852.30,516.59 L852.26,515.16 L852.14,513.68 L851.94,512.17 L851.66,510.63 L851.31,509.07 L850.88,507.50 L850.37,505.92 L849.79,504.34 L849.15,502.77 L848.43,501.20 L847.66,499.66 L846.82,498.15 L845.92,496.66 L844.98,495.22 L843.98,493.82 L842.94,492.47 L841.86,491.18 L840.75,489.96 L839.60,488.80 L838.43,487.71 L837.24,486.70 L836.03,485.77 L834.81,484.93 L833.58,484.18 L832.36,483.52 L831.14,482.95 L829.93,482.48 L828.74,482.12 L827.57,481.85 L826.42,481.69 L825.31,481.63 L824.23,481.67 L823.19,481.82 L822.19,482.06 L821.24,482.42 L820.35,482.87 L819.51,483.41 L818.74,484.06 L818.02,484.80 L817.38,485.62 L816.80,486.54 L816.29,487.53 L815.86,488.61 L815.51,489.76 L815.23,490.97 L815.03,492.25 L814.91,493.59 L814.87,494.98 L814.91,496.42 L815.03,497.90 L815.23,499.41 L815.51,500.94 L815.86,502.50 L816.29,504.07 L816.80,505.65 L817.38,507.24 L818.02,508.81 L818.74,510.37 L819.51,511.91 L820.35,513.43 L821.24,514.91 L822.19,516.35 L823.19,517.75 L824.23,519.10 L825.31,520.39 L826.42,521.62 L827.57,522.78 L828.74,523.87 L829.93,524.88 L831.14,525.80 L832.36,526.65 L833.58,527.40 L834.81,528.06 L836.03,528.62 L837.24,529.09 L838.43,529.46 L839.60,529.72 L840.75,529.89 L841.86,529.95 L842.94,529.91 L843.98,529.76 L844.98,529.51 L845.92,529.16 L846.82,528.71 L847.66,528.16 L848.43,527.52 L849.15,526.78 L849.79,525.95 L850.37,525.04 L850.88,524.04 L851.31,522.97 L851.66,521.82 L851.94,520.60 L852.14,519.32 L852.26,517.98 L852.30,516.59 Z" fill="#a9a9a9" fill-rule="evenodd" stroke="#111" stroke-width="1.35" stroke-linejoin="round"/>
</g>
<g id="titleblock">
<line x1="642.5" y1="595.7" x2="642.5" y2="737.7" stroke="#1c1c1c" stroke-width="1.15"/>
<line x1="642.5" y1="596.2" x2="1054.5" y2="596.2" stroke="#1c1c1c" stroke-width="1.15"/>
<line x1="771.2" y1="596.2" x2="771.2" y2="737.7" stroke="#1c1c1c" stroke-width="1.15"/>
<line x1="642.5" y1="609.2" x2="771.2" y2="609.2" stroke="#1c1c1c" stroke-width="1.15"/>
<line x1="642.5" y1="620.9" x2="771.2" y2="620.9" stroke="#1c1c1c" stroke-width="1.15"/>
<line x1="642.5" y1="632.3" x2="1054.5" y2="632.3" stroke="#1c1c1c" stroke-width="1.15"/>
<line x1="677.5" y1="609.2" x2="677.5" y2="632.3" stroke="#1c1c1c" stroke-width="1.15"/>
<line x1="724.6" y1="596.2" x2="724.6" y2="632.3" stroke="#1c1c1c" stroke-width="1.15"/>
<line x1="771.2" y1="614.2" x2="951.7" y2="614.2" stroke="#1c1c1c" stroke-width="1.15"/>
<line x1="915.3" y1="596.2" x2="915.3" y2="614.2" stroke="#1c1c1c" stroke-width="1.15"/>
<line x1="951.7" y1="596.2" x2="951.7" y2="632.3" stroke="#1c1c1c" stroke-width="1.15"/>
<line x1="771.2" y1="687.1" x2="1054.5" y2="687.1" stroke="#1c1c1c" stroke-width="1.15"/>
<line x1="771.2" y1="720.1" x2="1054.5" y2="720.1" stroke="#1c1c1c" stroke-width="1.15"/>
<line x1="1013.8" y1="687.1" x2="1013.8" y2="737.7" stroke="#1c1c1c" stroke-width="1.15"/>
<line x1="938.5" y1="720.1" x2="938.5" y2="737.7" stroke="#1c1c1c" stroke-width="1.15"/>
<text x="693.50" y="606.90" font-size="7.2" font-weight="normal" fill="#111" stroke="#111" stroke-width="0.2" textLength="14.51" lengthAdjust="spacingAndGlyphs">Date</text>
<text x="739.39" y="606.90" font-size="7.2" font-weight="normal" fill="#111" stroke="#111" stroke-width="0.2" textLength="15.78" lengthAdjust="spacingAndGlyphs">Name</text>
<text x="644.48" y="618.30" font-size="5.2" font-weight="normal" fill="#111" stroke="#111" stroke-width="0.1" textLength="14.84" lengthAdjust="spacingAndGlyphs">Drawn</text>
<text x="680.56" y="618.50" font-size="7.3" font-weight="normal" fill="#111" stroke="#111" stroke-width="0.2" textLength="33.82" lengthAdjust="spacingAndGlyphs">28-11-2025</text>
<text x="726.36" y="618.30" font-size="7.3" font-weight="normal" fill="#111" stroke="#111" stroke-width="0.2" textLength="8.00" lengthAdjust="spacingAndGlyphs">FK</text>
<text x="773.51" y="605.30" font-size="8.3" font-weight="normal" fill="#111" stroke="#111" stroke-width="0.2" textLength="20.51" lengthAdjust="spacingAndGlyphs">Matr.</text>
<text x="797.01" y="610.70" font-size="12.8" font-weight="normal" fill="#111" stroke="#111" stroke-width="0.3" textLength="39.02" lengthAdjust="spacingAndGlyphs">Generic</text>
<text x="773.80" y="623.70" font-size="8.2" font-weight="normal" fill="#111" stroke="#111" stroke-width="0.2" textLength="57.75" lengthAdjust="spacingAndGlyphs">Overflade beh.</text>
<text x="773.53" y="643.70" font-size="8.2" font-weight="normal" fill="#111" stroke="#111" stroke-width="0.2" textLength="44.89" lengthAdjust="spacingAndGlyphs">Beskrivelse</text>
<text x="918.09" y="610.00" font-size="12.2" font-weight="normal" fill="#111" stroke="#111" stroke-width="0.3" textLength="30.41" lengthAdjust="spacingAndGlyphs">EXC.2</text>
<text x="963.39" y="610.40" font-size="17.2" font-weight="normal" fill="#111" stroke="#111" stroke-width="0.6" textLength="73.57" lengthAdjust="spacingAndGlyphs">Ordre Nr.</text>
<text x="774.66" y="697.50" font-size="8.2" font-weight="normal" fill="#111" stroke="#111" stroke-width="0.2" textLength="34.00" lengthAdjust="spacingAndGlyphs">Tegn. nr.</text>
<text x="787.73" y="713.80" font-size="12.5" font-weight="normal" fill="#111" stroke="#111" stroke-width="0.3" textLength="184.98" lengthAdjust="spacingAndGlyphs">Wacker Neuson Minilæsser beslag</text>
<text x="773.54" y="728.60" font-size="8.2" font-weight="normal" fill="#111" stroke="#111" stroke-width="0.2" textLength="26.98" lengthAdjust="spacingAndGlyphs">Projekt</text>
<text x="1016.39" y="696.40" font-size="8.2" font-weight="normal" fill="#111" stroke="#111" stroke-width="0.2" textLength="30.28" lengthAdjust="spacingAndGlyphs">Side nr.</text>
<text x="1026.85" y="714.20" font-size="18.5" font-weight="normal" fill="#111" stroke="#111" stroke-width="0.3" textLength="7.46" lengthAdjust="spacingAndGlyphs">1</text>
<text x="941.53" y="728.90" font-size="8.2" font-weight="normal" fill="#111" stroke="#111" stroke-width="0.2" textLength="20.28" lengthAdjust="spacingAndGlyphs">Skala</text>
<text x="965.83" y="735.70" font-size="12.5" font-weight="normal" fill="#111" stroke="#111" stroke-width="0.3" textLength="24.70" lengthAdjust="spacingAndGlyphs">1 : 2</text>
<text x="1027.85" y="735.70" font-size="12.5" font-weight="normal" fill="#111" stroke="#111" stroke-width="0.3" textLength="12.85" lengthAdjust="spacingAndGlyphs">A3</text>
<text x="645.93" y="694.80" font-size="9.9" font-weight="normal" fill="#111" stroke="#111" stroke-width="0.25" textLength="65.59" lengthAdjust="spacingAndGlyphs">Randersvej 14</text>
<text x="646.43" y="708.20" font-size="9.9" font-weight="normal" fill="#111" stroke="#111" stroke-width="0.25" textLength="72.04" lengthAdjust="spacingAndGlyphs">8961 Allingåbro</text>
<text x="646.95" y="721.50" font-size="9.9" font-weight="normal" fill="#111" stroke="#111" stroke-width="0.25" textLength="97.53" lengthAdjust="spacingAndGlyphs">Tlf. +45 22 92 87 13</text>
<text x="660.62" y="735.10" font-size="9.9" font-weight="normal" fill="#111" stroke="#111" stroke-width="0.25" textLength="90.75" lengthAdjust="spacingAndGlyphs">: info@fk-smedie.dk</text>
<g fill="none" stroke="#333" stroke-width="0.75"><rect x="647.4" y="728.9" width="9" height="6.4"/><path d="M647.4,728.9 L651.9,732.6 L656.4,728.9 M647.4,735.3 L650.9,731.8 M656.4,735.3 L652.9,731.8"/></g>
<path d="M642.7,632.3 V681.6 M642.5,632.8 H711.5" stroke="#111" stroke-width="1.8" fill="none"/>
<g id="logo" transform="translate(640,630) scale(0.072115)">
<defs><clipPath id="anv"><path d="M150,350 L545,350 L545,700 L75,700 L80,662 C200,648 330,628 375,575 C395,540 370,490 330,465 L155,400 Z M596,350 L690,350 L690,440 C640,480 612,540 640,600 C660,640 690,670 690,700 L596,700 Z M765,350 L1140,352 C1050,400 900,448 765,465 Z"/></clipPath></defs>
<path d="M465,40 L465,218 A80,80 0 1 0 465,362 L465,490 M465,485 C430,448 340,438 290,490 C238,545 225,640 285,712 M570,40 L570,715 M745,42 A62,62 0 1 0 855,42 M985,45 L880,270 L1030,715 M690,715 L788,715 A62,62 0 1 1 902,715 L1000,715 M35,715 L570,715" fill="none" stroke="#111" stroke-width="17"/>
<path d="M150,350 L545,350 L545,700 L75,700 L80,662 C200,648 330,628 375,575 C395,540 370,490 330,465 L155,400 Z M596,350 L690,350 L690,440 C640,480 612,540 640,600 C660,640 690,670 690,700 L596,700 Z M765,350 L1140,352 C1050,400 900,448 765,465 Z" fill="#231f20"/>
<g clip-path="url(#anv)"><path d="M465,40 L465,218 A80,80 0 1 0 465,362 L465,490 M465,485 C430,448 340,438 290,490 C238,545 225,640 285,712 M570,40 L570,715 M745,42 A62,62 0 1 0 855,42 M985,45 L880,270 L1030,715 M690,715 L788,715 A62,62 0 1 1 902,715 L1000,715 M35,715 L570,715" fill="none" stroke="#f4f4f4" stroke-width="13"/></g>
<path d="M75,716 L290,716 M585,716 L690,716" stroke="#bbb" stroke-width="12" fill="none"/>
</g>
<clipPath id="smc"><rect x="705" y="669.9" width="70" height="14"/></clipPath>
<g clip-path="url(#smc)">
<text x="711.54" y="681.50" font-size="19.1" font-weight="bold" fill="#c40018" stroke="#c40018" stroke-width="0.8" textLength="57.87" lengthAdjust="spacingAndGlyphs">smedie</text>
</g>
</g>
</svg>
</body></html>
